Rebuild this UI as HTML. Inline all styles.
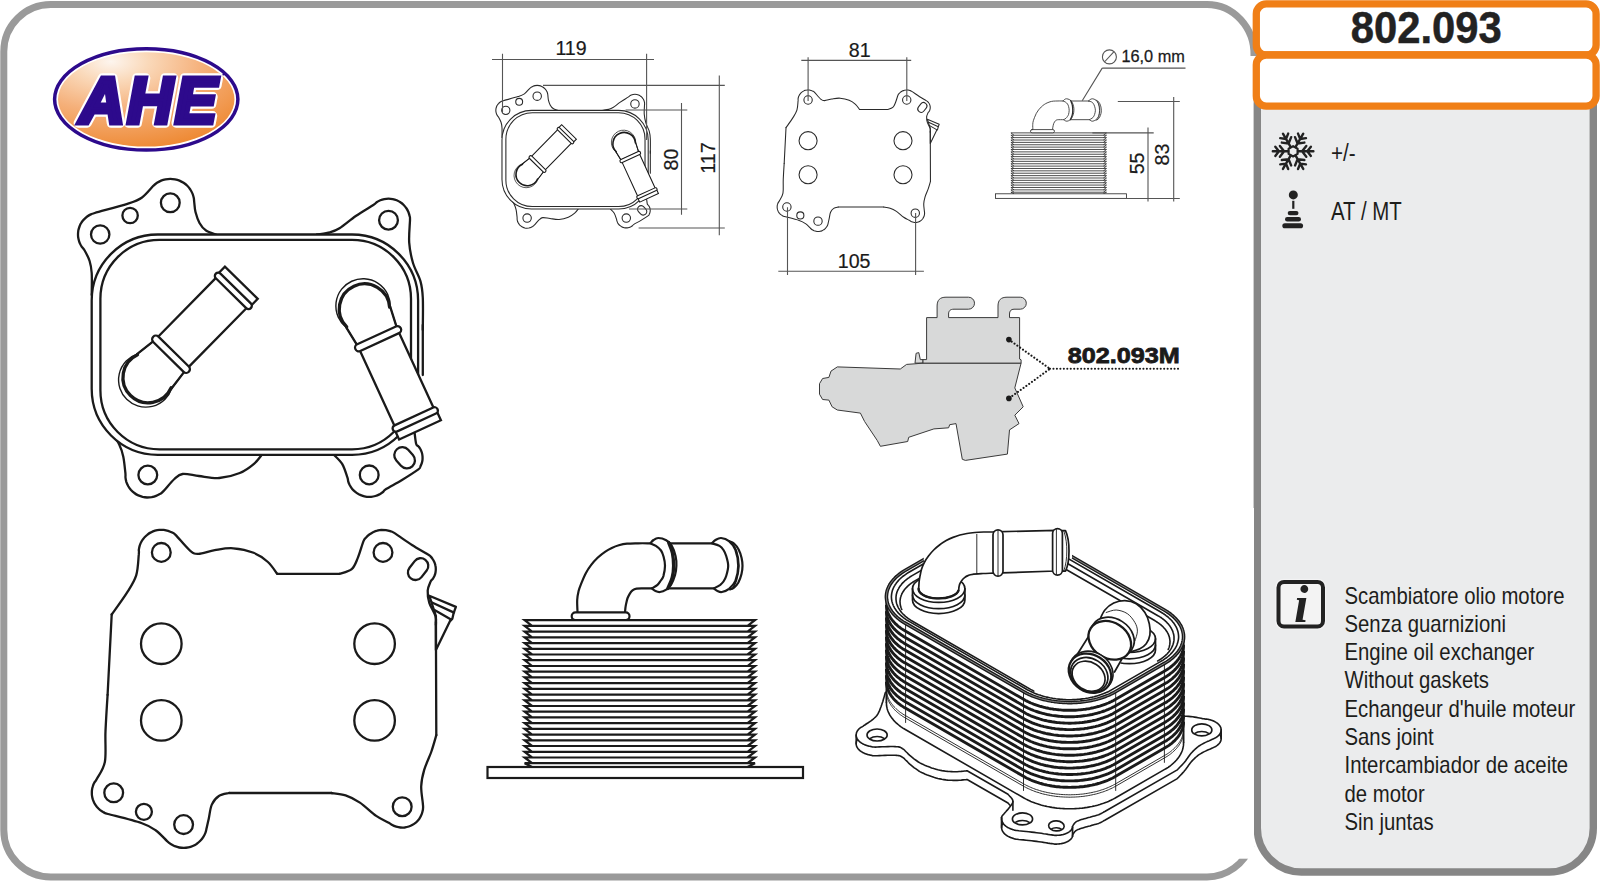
<!DOCTYPE html>
<html lang="it"><head><meta charset="utf-8"><title>802.093</title>
<style>
html,body{margin:0;padding:0;background:#fff;}
body{width:1600px;height:881px;overflow:hidden;}
svg{display:block;}
text{font-family:"Liberation Sans",sans-serif;}
.ln{fill:none;stroke:#1a1a1a;stroke-width:1.9;stroke-linecap:round;stroke-linejoin:round;}
.lnw{fill:#fff;stroke:#1a1a1a;stroke-width:1.9;stroke-linecap:round;stroke-linejoin:round;}
.dim{fill:none;stroke:#555;stroke-width:1.1;}
.dt{fill:#1a1a1a;font-size:19.6px;text-anchor:middle;stroke:#1a1a1a;stroke-width:0.2px;}
.info{fill:#1d1d1b;font-size:23px;}
</style></head>
<body>
<svg width="1600" height="881" viewBox="0 0 1600 881">
<g id="frame">
<path d="M1207 4.5 H51 A47 47 0 0 0 3.8 51.5 V830 A47 47 0 0 0 51 877 H1207 A47 47 0 0 0 1251 845" fill="none" stroke="#9a9a9a" stroke-width="7"/>
<path d="M1207 4.5 A47 50 0 0 1 1254 56" fill="none" stroke="#9a9a9a" stroke-width="7"/>
<rect x="1257.3" y="60" width="336" height="812" rx="44" ry="44" fill="#ebeced" stroke="#868686" stroke-width="7.4"/>
<rect x="1256.3" y="3.9" width="339.8" height="51.1" rx="10" ry="10" fill="#fff" stroke="#f07f17" stroke-width="7.3"/>
<rect x="1256.3" y="55" width="339.8" height="51.1" rx="10" ry="10" fill="#fff" stroke="#f07f17" stroke-width="7.3"/>
</g>
<g id="logo">
<defs><radialGradient id="lg" cx="0.3" cy="0.1" r="0.95"><stop offset="0" stop-color="#fdf5ee"/><stop offset="0.22" stop-color="#fad9ba"/><stop offset="0.55" stop-color="#f5b07a"/><stop offset="1" stop-color="#ee8933"/></radialGradient></defs>
<ellipse cx="146.25" cy="99.35" rx="91.65" ry="50.65" fill="#fff" stroke="#2d0a8c" stroke-width="3.5"/>
<ellipse cx="146.25" cy="99.35" rx="88.2" ry="47.2" fill="url(#lg)"/>
<text transform="translate(149.3 123.2) scale(0.965 1)" font-size="65" font-weight="bold" font-style="italic" text-anchor="middle" letter-spacing="2.5" fill="#fff" stroke="#fff" stroke-width="9.4" stroke-linejoin="round">AHE</text>
<text transform="translate(149.3 123.2) scale(0.965 1)" font-size="65" font-weight="bold" font-style="italic" text-anchor="middle" letter-spacing="2.5" fill="#2d0a8c" stroke="#2d0a8c" stroke-width="5" stroke-linejoin="miter">AHE</text>
<circle cx="223.4" cy="74.6" r="1" fill="#2d0a8c"/>
</g>
<g id="ptext">
<text transform="translate(1426.3 42.9) scale(0.935 1)" font-size="44.7" font-weight="bold" text-anchor="middle" fill="#222" stroke="#222" stroke-width="0.5">802.093</text>
<text transform="translate(1331 160.5) scale(0.86 1)" font-size="24" fill="#1d1d1b">+/-</text>
<text transform="translate(1331 220.3) scale(0.818 1)" font-size="25" fill="#1d1d1b">AT / MT</text>
<text class="info" transform="translate(1344.5 603.5) scale(0.884 1)">Scambiatore olio motore</text>
<text class="info" transform="translate(1344.5 631.8) scale(0.884 1)">Senza guarnizioni</text>
<text class="info" transform="translate(1344.5 660.1) scale(0.884 1)">Engine oil exchanger</text>
<text class="info" transform="translate(1344.5 688.4) scale(0.884 1)">Without gaskets</text>
<text class="info" transform="translate(1344.5 716.7) scale(0.884 1)">Echangeur d&#39;huile moteur</text>
<text class="info" transform="translate(1344.5 745) scale(0.884 1)">Sans joint</text>
<text class="info" transform="translate(1344.5 773.3) scale(0.884 1)">Intercambiador de aceite</text>
<text class="info" transform="translate(1344.5 801.6) scale(0.884 1)">de motor</text>
<text class="info" transform="translate(1344.5 829.9) scale(0.884 1)">Sin juntas</text>
</g>
<g id="icons">
<g transform="translate(1293.1 151.3)">
<g transform="rotate(0)"><path d="M5 0H20.3M9 0L13.2 -5.4M9 0L13.2 5.4M14.2 0L17.8 -4.6M14.2 0L17.8 4.6" fill="none" stroke="#222" stroke-width="2.4" stroke-linecap="round"/></g>
<g transform="rotate(60)"><path d="M5 0H20.3M9 0L13.2 -5.4M9 0L13.2 5.4M14.2 0L17.8 -4.6M14.2 0L17.8 4.6" fill="none" stroke="#222" stroke-width="2.4" stroke-linecap="round"/></g>
<g transform="rotate(120)"><path d="M5 0H20.3M9 0L13.2 -5.4M9 0L13.2 5.4M14.2 0L17.8 -4.6M14.2 0L17.8 4.6" fill="none" stroke="#222" stroke-width="2.4" stroke-linecap="round"/></g>
<g transform="rotate(180)"><path d="M5 0H20.3M9 0L13.2 -5.4M9 0L13.2 5.4M14.2 0L17.8 -4.6M14.2 0L17.8 4.6" fill="none" stroke="#222" stroke-width="2.4" stroke-linecap="round"/></g>
<g transform="rotate(240)"><path d="M5 0H20.3M9 0L13.2 -5.4M9 0L13.2 5.4M14.2 0L17.8 -4.6M14.2 0L17.8 4.6" fill="none" stroke="#222" stroke-width="2.4" stroke-linecap="round"/></g>
<g transform="rotate(300)"><path d="M5 0H20.3M9 0L13.2 -5.4M9 0L13.2 5.4M14.2 0L17.8 -4.6M14.2 0L17.8 4.6" fill="none" stroke="#222" stroke-width="2.4" stroke-linecap="round"/></g>
<path d="M4.5 2.6L0 5.2L-4.5 2.6L-4.5 -2.6L-0 -5.2L4.5 -2.6Z" fill="none" stroke="#222" stroke-width="2.2" stroke-linejoin="round"/>
</g>
<circle cx="1293.3" cy="194.9" r="4.5" fill="#222"/>
<rect x="1292.2" y="200.8" width="2.2" height="8" fill="#222"/>
<rect x="1287.7" y="210.9" width="10.8" height="4.4" rx="2.2" fill="#222"/>
<rect x="1285" y="217" width="16" height="4.5" rx="2.25" fill="#222"/>
<rect x="1282.3" y="223.2" width="20.8" height="5.1" rx="2.55" fill="#222"/>
<rect x="1275.3" y="578.7" width="50.9" height="50.9" rx="8" fill="#f6f6f6" opacity="0.7"/>
<rect x="1278.5" y="581.9" width="44.5" height="44.5" rx="5.5" fill="#f3f3f3" stroke="#222" stroke-width="4"/>
<text x="1301.2" y="621.8" font-family="Liberation Serif,serif" font-size="52" font-weight="bold" font-style="italic" text-anchor="middle" fill="#222" style="font-family:'Liberation Serif',serif">i</text>
</g>
<g id="topbig">
<path d="M216 234.5C214.3 233.8 208.8 232.4 206 230.5C203.2 228.6 201.2 226.1 199.5 223C197.8 219.9 196.4 215.4 195.5 212C194.6 208.6 194.6 205.1 194.3 202.8C194 200.5 194.1 199.6 193.8 198.1C193.5 196.6 193.1 195.1 192.5 193.6C191.9 192.2 191.1 190.8 190.3 189.5C189.4 188.2 188.4 186.9 187.3 185.8C186.2 184.7 184.9 183.7 183.6 182.8C182.3 182 180.9 181.2 179.5 180.6C178 180 176.5 179.6 175 179.3C173.5 179 171.9 178.8 170.3 178.8C168.7 178.8 167.1 179 165.6 179.3C164.1 179.6 162.6 180 161.1 180.6C159.7 181.2 158.3 182 157 182.8C155.7 183.7 155.9 183.4 153.3 185.8C150.8 188.3 146 194.7 141.7 197.7C137.4 200.7 135.2 201.3 127.4 203.8C119.6 206.3 100.9 211.2 94.8 213C88.7 214.7 92.1 213.8 90.8 214.4C89.5 215 88.3 215.7 87.2 216.5C86 217.4 84.9 218.3 84 219.4C83 220.4 82.1 221.5 81.4 222.7C80.6 223.9 80 225.2 79.5 226.5C79 227.9 78.6 229.3 78.3 230.6C78.1 232 78 233.5 78 234.9C78 236.3 78.2 237.7 78.5 239.1C78.8 240.5 79.2 241.9 79.8 243.2C80.3 244.5 81 245.7 81.8 246.9C82.6 248.1 83.2 247.9 84.5 250.2C85.8 252.5 88.4 257.2 89.6 261C90.8 264.8 91.3 267.3 91.7 273C92.1 278.7 91.7 291.3 91.7 295" fill="none" stroke="#1a1a1a" stroke-width="2.3" stroke-linecap="round" stroke-linejoin="round"/>
<path d="M317 234.5C319.2 234.1 326.2 233.3 330 232.3C333.8 231.3 335.2 231 339.5 228.3C343.8 225.6 350.2 219.9 355.8 216C361.4 212.1 369.8 207.3 373.3 205C376.8 202.7 375.4 203.1 376.6 202.3C377.7 201.5 379 200.9 380.3 200.3C381.6 199.8 382.9 199.4 384.3 199.1C385.7 198.8 387.1 198.7 388.5 198.7C389.9 198.7 391.3 198.8 392.7 199.1C394.1 199.4 395.4 199.8 396.7 200.3C398 200.9 399.3 201.5 400.4 202.3C401.6 203.1 402.7 204 403.7 205C404.7 206 405.6 207.1 406.4 208.3C407.2 209.4 407.8 210.7 408.4 212C408.9 213.3 409.3 214.6 409.6 216C409.9 217.4 410.1 215.8 410 220.2C409.9 224.6 408.7 235.5 409.2 242.6C409.7 249.7 411.1 256.5 413 263C414.9 269.5 418.9 275.6 420.5 281.4C422.1 287.2 422.4 289.7 422.8 297.8C423.2 305.9 422.8 324.6 422.8 330" fill="none" stroke="#1a1a1a" stroke-width="2.3" stroke-linecap="round" stroke-linejoin="round"/>
<path d="M109 428C110.7 430.7 116.8 439.6 119.2 444.4C121.6 449.2 122.3 451.9 123.3 456.7C124.3 461.5 125 469.6 125.4 473C125.7 476.5 125.3 476.1 125.5 477.6C125.6 479.1 126 480.6 126.4 482.1C126.9 483.5 127.6 484.9 128.3 486.2C129.1 487.6 130 488.8 131 490C132 491.1 133.1 492.1 134.4 493C135.6 494 136.9 494.8 138.3 495.4C139.7 496 141.1 496.5 142.6 496.9C144.1 497.2 145.6 497.4 147.1 497.5C148.7 497.5 150.2 497.4 151.7 497.2C153.2 496.9 154.7 496.5 156.1 495.9C157.5 495.4 158.9 494.6 160.2 493.8C161.4 493 161.3 493.4 163.7 490.9C166.1 488.4 171.3 481.8 174.4 479C177.5 476.2 178.5 474.5 182.6 474C186.7 473.5 192.8 475.3 198.9 476C205 476.7 212.5 478.5 219.3 478C226.1 477.5 234 475.4 239.8 473C245.6 470.6 250.3 466.9 254 463.8C257.7 460.7 260.7 456.1 262 454.5" fill="none" stroke="#1a1a1a" stroke-width="2.3" stroke-linecap="round" stroke-linejoin="round"/>
<path d="M334 455C335.4 456.5 340.1 460.4 342.3 464.1C344.5 467.8 346.3 474.3 347.3 477.2C348.3 480.1 347.8 480 348.2 481.4C348.6 482.8 349.2 484.1 349.8 485.3C350.5 486.6 351.3 487.8 352.2 488.9C353.1 490 354.2 491 355.3 491.9C356.4 492.8 357.6 493.6 358.8 494.3C360.1 495 361.4 495.5 362.8 495.9C364.1 496.4 365.6 496.6 367 496.8C368.4 496.9 369.8 496.9 371.2 496.8C372.7 496.7 374.1 496.4 375.4 496C376.8 495.6 378.2 495 379.4 494.4C380.7 493.7 381.9 492.9 383 492C384.1 491.1 382.9 491 386.1 489C389.2 487 396.6 483.3 402 480C407.4 476.7 415.3 471.6 418.4 469.4C421.5 467.1 419.8 467.5 420.4 466.5C420.9 465.4 421.4 464.3 421.8 463.2C422.1 462.1 422.4 460.9 422.5 459.8C422.6 458.6 422.6 457.4 422.5 456.2C422.4 455.1 422.2 453.9 421.9 452.8C421.6 451.6 421.1 450.5 420.6 449.5C420 448.5 419.4 447.4 418.6 446.5C417.9 445.6 416.8 446.3 416.2 444C415.5 441.8 414.9 434.8 414.6 433" fill="none" stroke="#1a1a1a" stroke-width="2.3" stroke-linecap="round" stroke-linejoin="round"/>
<path d="M422.8 325V375" fill="none" stroke="#1a1a1a" stroke-width="2.3" stroke-linecap="round" stroke-linejoin="round"/>
<circle cx="170.3" cy="202.8" r="9.4" fill="none" stroke="#1a1a1a" stroke-width="2.3" stroke-linecap="round" stroke-linejoin="round"/>
<circle cx="130.1" cy="215.5" r="7.7" fill="none" stroke="#1a1a1a" stroke-width="2.3" stroke-linecap="round" stroke-linejoin="round"/>
<circle cx="100.2" cy="234.5" r="9.2" fill="none" stroke="#1a1a1a" stroke-width="2.3" stroke-linecap="round" stroke-linejoin="round"/>
<circle cx="388.5" cy="220.2" r="9.4" fill="none" stroke="#1a1a1a" stroke-width="2.3" stroke-linecap="round" stroke-linejoin="round"/>
<circle cx="147.8" cy="475" r="9.4" fill="none" stroke="#1a1a1a" stroke-width="2.3" stroke-linecap="round" stroke-linejoin="round"/>
<circle cx="369.2" cy="474.9" r="9.4" fill="none" stroke="#1a1a1a" stroke-width="2.3" stroke-linecap="round" stroke-linejoin="round"/>
<rect x="-11.5" y="-8" width="23" height="16" rx="8" transform="translate(404.6 457.8) rotate(48)" fill="none" stroke="#1a1a1a" stroke-width="2.3" stroke-linecap="round" stroke-linejoin="round"/>
<path d="M157.7 234.5H352.1A66 66 0 0 1 418.1 300.5V388.8A66 66 0 0 1 352.1 454.8H157.7A66 66 0 0 1 91.7 388.8V300.5A66 66 0 0 1 157.7 234.5Z" fill="#fff" stroke="#1a1a1a" stroke-width="2.3" stroke-linecap="round" stroke-linejoin="round"/>
<path d="M159.4 239.8H352A59 59 0 0 1 411 298.8V390.3A59 59 0 0 1 352 449.3H159.4A59 59 0 0 1 100.4 390.3V298.8A59 59 0 0 1 159.4 239.8Z" fill="none" stroke="#1a1a1a" stroke-width="2.3" stroke-linecap="round" stroke-linejoin="round"/>
<g transform="translate(147.2 378.5) rotate(-45.5)">
<path d="M31 -21.7L10.2 -24.3A27.2 27.2 0 1 0 10.2 24.3L31 21.7Z" fill="#fff" stroke="#1a1a1a" stroke-width="1.4" stroke-linejoin="round"/>
<path d="M31 -21.7L10.2 -24.3M31 21.7L10.2 24.3" fill="none" stroke="#1a1a1a" stroke-width="2.3" stroke-linecap="round"/>
<path d="M10.2 -23.6A25.2 25.2 0 1 0 10.2 23.6" fill="none" stroke="#1a1a1a" stroke-width="3.3" stroke-linecap="round"/>
<rect x="33" y="-21.5" width="90" height="43" fill="#fff" stroke="none"/>
<path d="M36 -21.5H121M36 21.5H121" fill="none" stroke="#1a1a1a" stroke-width="2.3"/>
<rect x="30.3" y="-25" width="7.4" height="50" rx="3.7" fill="#fff" stroke="#1a1a1a" stroke-width="2.3"/>
<path d="M125 -23H134.3V23H125" fill="#fff" stroke="#1a1a1a" stroke-width="2.3" stroke-linejoin="miter"/>
<rect x="119.6" y="-24.6" width="6.6" height="49.2" rx="3.3" fill="#fff" stroke="#1a1a1a" stroke-width="2.3"/>
</g>
<g transform="translate(363.9 307.8) rotate(65.3)">
<path d="M31 -21.7L10.2 -24.3A27.2 27.2 0 1 0 10.2 24.3L31 21.7Z" fill="#fff" stroke="#1a1a1a" stroke-width="1.4" stroke-linejoin="round"/>
<path d="M31 -21.7L10.2 -24.3M31 21.7L10.2 24.3" fill="none" stroke="#1a1a1a" stroke-width="2.3" stroke-linecap="round"/>
<path d="M10.2 -23.6A25.2 25.2 0 1 0 10.2 23.6" fill="none" stroke="#1a1a1a" stroke-width="3.3" stroke-linecap="round"/>
<rect x="33" y="-21.5" width="90" height="43" fill="#fff" stroke="none"/>
<path d="M36 -21.5H121M36 21.5H121" fill="none" stroke="#1a1a1a" stroke-width="2.3"/>
<rect x="30.3" y="-25" width="7.4" height="50" rx="3.7" fill="#fff" stroke="#1a1a1a" stroke-width="2.3"/>
<path d="M125 -23H134.3V23H125" fill="#fff" stroke="#1a1a1a" stroke-width="2.3" stroke-linejoin="miter"/>
<rect x="119.6" y="-24.6" width="6.6" height="49.2" rx="3.3" fill="#fff" stroke="#1a1a1a" stroke-width="2.3"/>
</g>
</g>
<g id="botbig">
<path d="M429.3 595.7L455.9 606.9L453.6 613.2L452.4 618.6L449.8 621.4L435.9 650V616Z" fill="#fff" stroke="#1a1a1a" stroke-width="2.3" stroke-linecap="round" stroke-linejoin="round"/>
<path d="M432 602.5L454 612.6M434.5 610L451 619.5" fill="none" stroke="#1a1a1a" stroke-width="2.3" stroke-linecap="round" stroke-linejoin="round"/>
<path d="M111.7 614.5C114.2 610.9 122.9 599.1 127 592.6C131.1 586.1 134.2 581.7 136.2 575.3C138.2 568.9 138.3 558.6 138.8 554.4C139.2 550.1 138.7 551.4 138.8 549.9C139 548.5 139.3 547 139.7 545.6C140.2 544.2 140.8 542.8 141.5 541.5C142.2 540.2 143 539 144 537.9C144.9 536.7 146 535.7 147.2 534.8C148.3 533.9 149.6 533 150.9 532.4C152.2 531.7 153.6 531.1 155 530.7C156.4 530.3 157.9 530 159.3 529.9C160.8 529.8 162.3 529.8 163.8 529.9C165.2 530.1 166.7 530.4 168.1 530.8C169.5 531.3 170.9 531.9 172.2 532.6C173.5 533.3 172.8 532.1 175.8 535.1C178.8 538.1 186.5 547.7 190.3 550.8C194.1 553.9 194.4 553.9 198.5 553.8C202.6 553.7 209 551 214.8 550.1C220.6 549.2 226.7 547.8 233.2 548.3C239.7 548.8 247.8 550.5 253.6 552.8C259.4 555.1 264 558.5 267.9 562C271.8 565.5 275.6 571.8 277.2 573.8" fill="none" stroke="#1a1a1a" stroke-width="2.3" stroke-linecap="round" stroke-linejoin="round"/>
<path d="M277.2 573.8H339.5" fill="none" stroke="#1a1a1a" stroke-width="2.3" stroke-linecap="round" stroke-linejoin="round"/>
<path d="M339.5 573.8C341.5 573 348.6 571.8 351.7 569.1C354.8 566.5 355.8 562.6 357.8 557.9C359.8 553.2 362.1 544.5 363.5 541.1C364.9 537.8 365.1 538.7 366.1 537.6C367 536.5 368.1 535.4 369.3 534.5C370.5 533.7 371.7 532.9 373 532.2C374.4 531.6 375.8 531 377.2 530.7C378.6 530.3 380.1 530 381.5 529.9C383 529.9 384.5 529.9 385.9 530.1C387.4 530.3 388.8 530.6 390.2 531.1C391.6 531.6 390.6 530.6 394.2 532.9C397.9 535.2 406.4 541.4 412 545C417.6 548.6 424.7 552.3 427.7 554.3C430.8 556.2 429.6 555.6 430.5 556.4C431.3 557.2 432.1 558.2 432.7 559.1C433.4 560.1 433.9 561.1 434.4 562.2C434.8 563.3 435.2 564.4 435.4 565.5C435.7 566.7 435.8 567.8 435.8 569C435.8 570.2 435.7 571.3 435.5 572.5C435.3 573.6 434.9 574.8 434.5 575.8C434 576.9 433.5 577.9 432.8 578.9C432.2 579.9 431.5 579.7 430.6 581.6C429.8 583.6 427.9 587.1 427.7 590.6C427.5 594.1 428 598.5 429.3 602.8C430.6 607 434.4 612.4 435.5 616.1C436.6 619.8 435.8 623.5 435.9 625" fill="none" stroke="#1a1a1a" stroke-width="2.3" stroke-linecap="round" stroke-linejoin="round"/>
<path d="M435.9 622L436.3 735.2" fill="none" stroke="#1a1a1a" stroke-width="2.3" stroke-linecap="round" stroke-linejoin="round"/>
<path d="M436.3 735.2C435.5 737.9 433.4 745.7 431.4 751.5C429.4 757.3 425.9 764.1 424.2 769.9C422.5 775.7 421.4 780.7 421.2 786.2C421 791.7 422.5 799.6 422.8 803.1C423.1 806.6 423.1 805.9 423.1 807.3C423.1 808.7 422.9 810.1 422.5 811.5C422.2 812.9 421.7 814.3 421.1 815.5C420.5 816.8 419.8 818.1 419 819.2C418.1 820.3 417.1 821.4 416.1 822.3C415 823.2 413.9 824.1 412.6 824.8C411.4 825.5 410.1 826.1 408.8 826.5C407.4 827 406 827.3 404.6 827.5C403.2 827.6 401.8 827.6 400.4 827.5C399 827.4 397.6 827.1 396.2 826.7C394.9 826.3 393.5 825.8 392.3 825.1C391 824.4 391.4 824.2 388.8 822.7C386.1 821.2 381 819.3 376.2 815.9C371.4 812.5 365 806 359.9 802.6C354.8 799.2 350.4 797 345.6 795.4C340.8 793.8 333.7 793.4 331.3 793" fill="none" stroke="#1a1a1a" stroke-width="2.3" stroke-linecap="round" stroke-linejoin="round"/>
<path d="M331.3 793H229.1" fill="none" stroke="#1a1a1a" stroke-width="2.3" stroke-linecap="round" stroke-linejoin="round"/>
<path d="M229.1 793C227.4 793.5 221.8 794.1 218.9 796C216 797.9 213.5 800.8 211.8 804.6C210.1 808.4 209.6 814.9 208.7 818.9C207.8 822.9 207.1 826.3 206.5 828.6C206 831 205.9 831.7 205.3 833.1C204.7 834.5 204 835.9 203.2 837.2C202.4 838.5 201.4 839.7 200.3 840.8C199.3 841.9 198.1 842.9 196.8 843.8C195.6 844.7 194.2 845.4 192.8 846C191.4 846.6 189.9 847.1 188.4 847.4C186.9 847.7 185.3 847.9 183.8 847.9C182.3 847.9 180.7 847.8 179.2 847.5C177.7 847.2 176.2 846.7 174.8 846.2C173.4 845.6 172 844.8 170.7 844C169.4 843.2 169.6 843.4 167.1 841.1C164.6 838.8 159.9 833.2 155.6 830.2C151.3 827.2 149.2 825.7 141.3 823C133.4 820.3 114.3 815.7 108 814C101.8 812.2 105.2 813 103.9 812.4C102.6 811.7 101.4 811 100.2 810.1C99.1 809.2 98 808.1 97 807C96.1 805.9 95.3 804.7 94.5 803.4C93.8 802.1 93.3 800.8 92.8 799.4C92.4 798 92.1 796.5 91.9 795.1C91.8 793.6 91.8 792.1 91.9 790.7C92 789.3 92.3 787.8 92.8 786.4C93.2 785 93.8 783.6 94.5 782.4C95.1 781.1 95.2 782.2 96.9 778.7C98.7 775.3 103.5 769.6 104.9 761.7C106.3 753.8 105 742.2 105.5 731.1C106 720 107.2 700.8 107.6 694.8" fill="none" stroke="#1a1a1a" stroke-width="2.3" stroke-linecap="round" stroke-linejoin="round"/>
<path d="M107.6 694.8L111.7 614.5" fill="none" stroke="#1a1a1a" stroke-width="2.3" stroke-linecap="round" stroke-linejoin="round"/>
<circle cx="161.3" cy="552.4" r="9.4" fill="none" stroke="#1a1a1a" stroke-width="2.3" stroke-linecap="round" stroke-linejoin="round"/>
<circle cx="383" cy="552.4" r="9.4" fill="none" stroke="#1a1a1a" stroke-width="2.3" stroke-linecap="round" stroke-linejoin="round"/>
<circle cx="161.3" cy="643.7" r="20.3" fill="none" stroke="#1a1a1a" stroke-width="2.3" stroke-linecap="round" stroke-linejoin="round"/>
<circle cx="374.6" cy="643.7" r="20.3" fill="none" stroke="#1a1a1a" stroke-width="2.3" stroke-linecap="round" stroke-linejoin="round"/>
<circle cx="161.3" cy="720.4" r="20.3" fill="none" stroke="#1a1a1a" stroke-width="2.3" stroke-linecap="round" stroke-linejoin="round"/>
<circle cx="374.6" cy="720.4" r="20.3" fill="none" stroke="#1a1a1a" stroke-width="2.3" stroke-linecap="round" stroke-linejoin="round"/>
<circle cx="113.7" cy="792.8" r="9.4" fill="none" stroke="#1a1a1a" stroke-width="2.3" stroke-linecap="round" stroke-linejoin="round"/>
<circle cx="143.9" cy="811.8" r="8" fill="none" stroke="#1a1a1a" stroke-width="2.3" stroke-linecap="round" stroke-linejoin="round"/>
<circle cx="183.6" cy="824.6" r="9.4" fill="none" stroke="#1a1a1a" stroke-width="2.3" stroke-linecap="round" stroke-linejoin="round"/>
<circle cx="402.2" cy="806.7" r="9.4" fill="none" stroke="#1a1a1a" stroke-width="2.3" stroke-linecap="round" stroke-linejoin="round"/>
<rect x="-11.8" y="-7.6" width="23.6" height="15.2" rx="7.6" transform="translate(418.1 569.1) rotate(-52)" fill="none" stroke="#1a1a1a" stroke-width="2.3" stroke-linecap="round" stroke-linejoin="round"/>
</g>
<g id="sidebig">
<path d="M532.1 625.9L524.6 620.2H755L747.5 625.9M532.1 631.6L524.6 625.9H755L747.5 631.6M532.1 637.4L524.6 631.6H755L747.5 637.4M532.1 643.1L524.6 637.4H755L747.5 643.1M532.1 648.8L524.6 643.1H755L747.5 648.8M532.1 654.5L524.6 648.8H755L747.5 654.5M532.1 660.2L524.6 654.5H755L747.5 660.2M532.1 666L524.6 660.2H755L747.5 666M532.1 671.7L524.6 666H755L747.5 671.7M532.1 677.4L524.6 671.7H755L747.5 677.4M532.1 683.1L524.6 677.4H755L747.5 683.1M532.1 688.8L524.6 683.1H755L747.5 688.8M532.1 694.6L524.6 688.8H755L747.5 694.6M532.1 700.3L524.6 694.6H755L747.5 700.3M532.1 706L524.6 700.3H755L747.5 706M532.1 711.7L524.6 706H755L747.5 711.7M532.1 717.4L524.6 711.7H755L747.5 717.4M532.1 723.2L524.6 717.4H755L747.5 723.2M532.1 728.9L524.6 723.2H755L747.5 728.9M532.1 734.6L524.6 728.9H755L747.5 734.6M532.1 740.3L524.6 734.6H755L747.5 740.3M532.1 746L524.6 740.3H755L747.5 746M532.1 751.8L524.6 746H755L747.5 751.8M532.1 757.5L524.6 751.8H755L747.5 757.5M532.1 763.2L524.6 757.5H755L747.5 763.2M532.1 767L524.6 763.2H755L747.5 767" fill="none" stroke="#1a1a1a" stroke-width="2.2" stroke-linecap="butt" stroke-linejoin="miter"/>
<rect x="487.5" y="767" width="315.5" height="11" fill="#fff" stroke="#1a1a1a" stroke-width="2.2" stroke-linejoin="miter"/>
<path d="M577.5 612.5C577.5 610.4 577 603.6 577.2 600C577.4 596.4 577.9 593.9 578.6 591C579.3 588.1 580.4 585.7 581.6 582.7C582.8 579.7 584.2 576.2 585.8 573.2C587.4 570.2 589.2 567.5 591.2 564.9C593.2 562.3 595.3 560 597.6 557.8C599.9 555.6 602.6 553.4 605 551.8C607.4 550.2 609.5 549.1 611.8 548C614.1 546.9 616.3 546 618.8 545.3C621.3 544.6 623.8 544 627 543.7C630.2 543.4 634.1 543.4 638 543.3C641.9 543.2 648.2 543.3 650.3 543.3" fill="none" stroke="#1a1a1a" stroke-width="2.2" stroke-linecap="round" stroke-linejoin="round"/>
<path d="M651.9 588.4C650.6 588.4 646.5 588.4 644 588.4C641.5 588.4 638.5 588.3 636.6 588.6C634.7 588.9 633.6 589.5 632.5 590.4C631.4 591.3 630.5 592.5 629.7 593.8C628.9 595.1 628.2 596.5 627.6 598C627 599.5 626.7 601.3 626.3 603C625.9 604.7 625.6 606.4 625.4 608C625.2 609.6 625.1 611.8 625 612.5" fill="none" stroke="#1a1a1a" stroke-width="2.2" stroke-linecap="round" stroke-linejoin="round"/>
<rect x="571.7" y="612.3" width="57.8" height="7.7" rx="3.8" fill="#fff" stroke="#1a1a1a" stroke-width="2.2" stroke-linecap="round" stroke-linejoin="round"/>
<path d="M668 543.4H714M668 588.4H715" fill="none" stroke="#1a1a1a" stroke-width="2.2" stroke-linecap="round" stroke-linejoin="round"/>
<path d="M650.3 543.3C651.2 543.7 654.1 544.7 655.9 545.9C657.7 547.1 659.7 548.7 661 550.5C662.3 552.3 662.9 554.2 663.6 556.8C664.3 559.3 665 562.6 665 565.8C665 569 664.1 573.6 663.4 576.1C662.6 578.6 661.5 579.5 660.5 581C659.5 582.5 658.9 583.6 657.5 584.8C656.1 586 652.8 587.8 651.9 588.4C652.5 588.8 654.2 590.4 655.5 591C656.8 591.6 658.1 592.2 659.9 592C661.7 591.8 664.4 590.8 666.2 589.6C668.1 588.4 669.5 587.2 671 584.8C672.5 582.4 674.1 578.5 675 575.3C675.9 572.1 676.3 569 676.4 565.8C676.5 562.6 676.4 559.5 675.6 556.2C674.8 552.9 673.4 548.5 671.8 545.9C670.2 543.2 668.5 541.6 666.2 540.3C664 539 660.4 538 658.3 538C656.2 538 654.8 539.1 653.5 540C652.2 540.9 650.8 542.8 650.3 543.3" fill="#fff" stroke="#1a1a1a" stroke-width="2.2" stroke-linecap="round" stroke-linejoin="round"/>
<path d="M668.6 542.5C669.2 544.2 671.6 549.1 672.4 553C673.2 556.9 673.6 561.7 673.6 565.8C673.6 569.9 673.2 573.7 672.2 577.5C671.2 581.3 668.5 586.7 667.8 588.5" fill="none" stroke="#1a1a1a" stroke-width="3.3" stroke-linecap="round"/>
<path d="M729 541.2C729.8 541.6 732.4 542.1 734 543.5C735.6 544.9 737.3 547.1 738.6 549.5C739.9 551.9 741 555.3 741.6 558C742.2 560.7 742.5 563.1 742.5 565.8C742.5 568.5 742.2 571.2 741.5 574C740.8 576.8 739.6 580.2 738.4 582.5C737.1 584.8 735.4 586.5 734 587.6C732.6 588.8 730.5 589.1 729.8 589.4" fill="#fff" stroke="#1a1a1a" stroke-width="2.2" stroke-linecap="round" stroke-linejoin="round"/>
<path d="M711.9 543.3C713.2 543.7 717.6 544.8 719.5 545.9C721.4 547 722.4 548.3 723.5 550C724.6 551.7 725.4 553.4 726.2 556C727 558.6 728.2 562.5 728.2 565.8C728.2 569.1 727 573.4 726.2 576C725.4 578.6 724.5 580 723.5 581.5C722.5 583 721.9 583.6 720.3 584.8C718.7 585.9 715 587.8 713.9 588.4C714.5 588.8 716.2 590.4 717.5 591C718.8 591.6 720 592.4 721.9 592C723.8 591.6 726.8 590.6 729 588.8C731.2 586.9 733.9 584.7 735.4 580.9C736.9 577.1 738.2 571 738.2 565.8C738.2 560.6 736.9 554 735.4 549.9C733.9 545.8 731.4 543.1 729 541.1C726.6 539.1 723.4 538.2 721.1 538C718.9 537.8 717 539.1 715.5 540C714 540.9 712.5 542.8 711.9 543.3" fill="#fff" stroke="#1a1a1a" stroke-width="2.2" stroke-linecap="round" stroke-linejoin="round"/>
<path d="M731.4 542.7C732.3 544.1 735.3 547.1 736.6 551C737.9 554.9 739 561 739 565.8C739 570.6 737.7 576.2 736.6 580C735.5 583.8 733.2 587.2 732.5 588.6" fill="none" stroke="#1a1a1a" stroke-width="1.5" stroke-linecap="round"/>
</g>
<g id="small">
<g transform="translate(460.9 5.3) scale(0.448)">
<path d="M216 234.5C214.3 233.8 208.8 232.4 206 230.5C203.2 228.6 201.2 226.1 199.5 223C197.8 219.9 196.4 215.4 195.5 212C194.6 208.6 194.6 205.1 194.3 202.8C194 200.5 194.1 199.6 193.8 198.1C193.5 196.6 193.1 195.1 192.5 193.6C191.9 192.2 191.1 190.8 190.3 189.5C189.4 188.2 188.4 186.9 187.3 185.8C186.2 184.7 184.9 183.7 183.6 182.8C182.3 182 180.9 181.2 179.5 180.6C178 180 176.5 179.6 175 179.3C173.5 179 171.9 178.8 170.3 178.8C168.7 178.8 167.1 179 165.6 179.3C164.1 179.6 162.6 180 161.1 180.6C159.7 181.2 158.3 182 157 182.8C155.7 183.7 155.9 183.4 153.3 185.8C150.8 188.3 146 194.7 141.7 197.7C137.4 200.7 135.2 201.3 127.4 203.8C119.6 206.3 100.9 211.2 94.8 213C88.7 214.7 92.1 213.8 90.8 214.4C89.5 215 88.3 215.7 87.2 216.5C86 217.4 84.9 218.3 84 219.4C83 220.4 82.1 221.5 81.4 222.7C80.6 223.9 80 225.2 79.5 226.5C79 227.9 78.6 229.3 78.3 230.6C78.1 232 78 233.5 78 234.9C78 236.3 78.2 237.7 78.5 239.1C78.8 240.5 79.2 241.9 79.8 243.2C80.3 244.5 81 245.7 81.8 246.9C82.6 248.1 83.2 247.9 84.5 250.2C85.8 252.5 88.4 257.2 89.6 261C90.8 264.8 91.3 267.3 91.7 273C92.1 278.7 91.7 291.3 91.7 295" fill="none" stroke="#2a2a2a" stroke-width="2.4" stroke-linecap="round" stroke-linejoin="round"/>
<path d="M317 234.5C319.2 234.1 326.2 233.3 330 232.3C333.8 231.3 335.2 231 339.5 228.3C343.8 225.6 350.2 219.9 355.8 216C361.4 212.1 369.8 207.3 373.3 205C376.8 202.7 375.4 203.1 376.6 202.3C377.7 201.5 379 200.9 380.3 200.3C381.6 199.8 382.9 199.4 384.3 199.1C385.7 198.8 387.1 198.7 388.5 198.7C389.9 198.7 391.3 198.8 392.7 199.1C394.1 199.4 395.4 199.8 396.7 200.3C398 200.9 399.3 201.5 400.4 202.3C401.6 203.1 402.7 204 403.7 205C404.7 206 405.6 207.1 406.4 208.3C407.2 209.4 407.8 210.7 408.4 212C408.9 213.3 409.3 214.6 409.6 216C409.9 217.4 410.1 215.8 410 220.2C409.9 224.6 408.7 235.5 409.2 242.6C409.7 249.7 411.1 256.5 413 263C414.9 269.5 418.9 275.6 420.5 281.4C422.1 287.2 422.4 289.7 422.8 297.8C423.2 305.9 422.8 324.6 422.8 330" fill="none" stroke="#2a2a2a" stroke-width="2.4" stroke-linecap="round" stroke-linejoin="round"/>
<path d="M109 428C110.7 430.7 116.8 439.6 119.2 444.4C121.6 449.2 122.3 451.9 123.3 456.7C124.3 461.5 125 469.6 125.4 473C125.7 476.5 125.3 476.1 125.5 477.6C125.6 479.1 126 480.6 126.4 482.1C126.9 483.5 127.6 484.9 128.3 486.2C129.1 487.6 130 488.8 131 490C132 491.1 133.1 492.1 134.4 493C135.6 494 136.9 494.8 138.3 495.4C139.7 496 141.1 496.5 142.6 496.9C144.1 497.2 145.6 497.4 147.1 497.5C148.7 497.5 150.2 497.4 151.7 497.2C153.2 496.9 154.7 496.5 156.1 495.9C157.5 495.4 158.9 494.6 160.2 493.8C161.4 493 161.3 493.4 163.7 490.9C166.1 488.4 171.3 481.8 174.4 479C177.5 476.2 178.5 474.5 182.6 474C186.7 473.5 192.8 475.3 198.9 476C205 476.7 212.5 478.5 219.3 478C226.1 477.5 234 475.4 239.8 473C245.6 470.6 250.3 466.9 254 463.8C257.7 460.7 260.7 456.1 262 454.5" fill="none" stroke="#2a2a2a" stroke-width="2.4" stroke-linecap="round" stroke-linejoin="round"/>
<path d="M334 455C335.4 456.5 340.1 460.4 342.3 464.1C344.5 467.8 346.3 474.3 347.3 477.2C348.3 480.1 347.8 480 348.2 481.4C348.6 482.8 349.2 484.1 349.8 485.3C350.5 486.6 351.3 487.8 352.2 488.9C353.1 490 354.2 491 355.3 491.9C356.4 492.8 357.6 493.6 358.8 494.3C360.1 495 361.4 495.5 362.8 495.9C364.1 496.4 365.6 496.6 367 496.8C368.4 496.9 369.8 496.9 371.2 496.8C372.7 496.7 374.1 496.4 375.4 496C376.8 495.6 378.2 495 379.4 494.4C380.7 493.7 381.9 492.9 383 492C384.1 491.1 382.9 491 386.1 489C389.2 487 396.6 483.3 402 480C407.4 476.7 415.3 471.6 418.4 469.4C421.5 467.1 419.8 467.5 420.4 466.5C420.9 465.4 421.4 464.3 421.8 463.2C422.1 462.1 422.4 460.9 422.5 459.8C422.6 458.6 422.6 457.4 422.5 456.2C422.4 455.1 422.2 453.9 421.9 452.8C421.6 451.6 421.1 450.5 420.6 449.5C420 448.5 419.4 447.4 418.6 446.5C417.9 445.6 416.8 446.3 416.2 444C415.5 441.8 414.9 434.8 414.6 433" fill="none" stroke="#2a2a2a" stroke-width="2.4" stroke-linecap="round" stroke-linejoin="round"/>
<path d="M422.8 325V375" fill="none" stroke="#2a2a2a" stroke-width="2.4" stroke-linecap="round" stroke-linejoin="round"/>
<circle cx="170.3" cy="202.8" r="9.4" fill="none" stroke="#2a2a2a" stroke-width="2.4" stroke-linecap="round" stroke-linejoin="round"/>
<circle cx="130.1" cy="215.5" r="7.7" fill="none" stroke="#2a2a2a" stroke-width="2.4" stroke-linecap="round" stroke-linejoin="round"/>
<circle cx="100.2" cy="234.5" r="9.2" fill="none" stroke="#2a2a2a" stroke-width="2.4" stroke-linecap="round" stroke-linejoin="round"/>
<circle cx="388.5" cy="220.2" r="9.4" fill="none" stroke="#2a2a2a" stroke-width="2.4" stroke-linecap="round" stroke-linejoin="round"/>
<circle cx="147.8" cy="475" r="9.4" fill="none" stroke="#2a2a2a" stroke-width="2.4" stroke-linecap="round" stroke-linejoin="round"/>
<circle cx="369.2" cy="474.9" r="9.4" fill="none" stroke="#2a2a2a" stroke-width="2.4" stroke-linecap="round" stroke-linejoin="round"/>
<rect x="-11.5" y="-8" width="23" height="16" rx="8" transform="translate(404.6 457.8) rotate(48)" fill="none" stroke="#2a2a2a" stroke-width="2.4" stroke-linecap="round" stroke-linejoin="round"/>
<path d="M157.7 234.5H352.1A66 66 0 0 1 418.1 300.5V388.8A66 66 0 0 1 352.1 454.8H157.7A66 66 0 0 1 91.7 388.8V300.5A66 66 0 0 1 157.7 234.5Z" fill="#fff" stroke="#2a2a2a" stroke-width="2.4" stroke-linecap="round" stroke-linejoin="round"/>
<path d="M159.4 239.8H352A59 59 0 0 1 411 298.8V390.3A59 59 0 0 1 352 449.3H159.4A59 59 0 0 1 100.4 390.3V298.8A59 59 0 0 1 159.4 239.8Z" fill="none" stroke="#2a2a2a" stroke-width="2.4" stroke-linecap="round" stroke-linejoin="round"/>
<g transform="translate(147.2 378.5) rotate(-45.5)">
<path d="M31 -21.7L10.2 -24.3A27.2 27.2 0 1 0 10.2 24.3L31 21.7Z" fill="#fff" stroke="#1a1a1a" stroke-width="1.5" stroke-linejoin="round"/>
<path d="M31 -21.7L10.2 -24.3M31 21.7L10.2 24.3" fill="none" stroke="#1a1a1a" stroke-width="2.4" stroke-linecap="round"/>
<path d="M10.2 -23.6A25.2 25.2 0 1 0 10.2 23.6" fill="none" stroke="#1a1a1a" stroke-width="3.5" stroke-linecap="round"/>
<rect x="33" y="-21.5" width="90" height="43" fill="#fff" stroke="none"/>
<path d="M36 -21.5H121M36 21.5H121" fill="none" stroke="#1a1a1a" stroke-width="2.4"/>
<rect x="30.3" y="-25" width="7.4" height="50" rx="3.7" fill="#fff" stroke="#1a1a1a" stroke-width="2.4"/>
<path d="M125 -23H134.3V23H125" fill="#fff" stroke="#1a1a1a" stroke-width="2.4" stroke-linejoin="miter"/>
<rect x="119.6" y="-24.6" width="6.6" height="49.2" rx="3.3" fill="#fff" stroke="#1a1a1a" stroke-width="2.4"/>
</g>
<g transform="translate(363.9 307.8) rotate(65.3)">
<path d="M31 -21.7L10.2 -24.3A27.2 27.2 0 1 0 10.2 24.3L31 21.7Z" fill="#fff" stroke="#1a1a1a" stroke-width="1.5" stroke-linejoin="round"/>
<path d="M31 -21.7L10.2 -24.3M31 21.7L10.2 24.3" fill="none" stroke="#1a1a1a" stroke-width="2.4" stroke-linecap="round"/>
<path d="M10.2 -23.6A25.2 25.2 0 1 0 10.2 23.6" fill="none" stroke="#1a1a1a" stroke-width="3.5" stroke-linecap="round"/>
<rect x="33" y="-21.5" width="90" height="43" fill="#fff" stroke="none"/>
<path d="M36 -21.5H121M36 21.5H121" fill="none" stroke="#1a1a1a" stroke-width="2.4"/>
<rect x="30.3" y="-25" width="7.4" height="50" rx="3.7" fill="#fff" stroke="#1a1a1a" stroke-width="2.4"/>
<path d="M125 -23H134.3V23H125" fill="#fff" stroke="#1a1a1a" stroke-width="2.4" stroke-linejoin="miter"/>
<rect x="119.6" y="-24.6" width="6.6" height="49.2" rx="3.3" fill="#fff" stroke="#1a1a1a" stroke-width="2.4"/>
</g>
</g>
<path class="dim" d="M492 59.5H654M502.5 53.7V112M646.6 53.7V140M543 85.4H724.8M625.6 110H687.3M629 209H687.3M638.6 228H724.8M681.5 103V214.8M719.3 75.5V235.3"/>
<text class="dt" x="571" y="55">119</text>
<text class="dt" font-size="19.6" transform="translate(678.2 159.5) rotate(-90)">80</text>
<text class="dt" font-size="19.6" transform="translate(715.4 158) rotate(-90)">117</text>
<g transform="translate(736.3 -145.8) scale(0.445)">
<path d="M429.3 595.7L455.9 606.9L453.6 613.2L452.4 618.6L449.8 621.4L435.9 650V616Z" fill="#fff" stroke="#2a2a2a" stroke-width="2.4" stroke-linecap="round" stroke-linejoin="round"/>
<path d="M432 602.5L454 612.6M434.5 610L451 619.5" fill="none" stroke="#2a2a2a" stroke-width="2.4" stroke-linecap="round" stroke-linejoin="round"/>
<path d="M111.7 614.5C114.2 610.9 122.9 599.1 127 592.6C131.1 586.1 134.2 581.7 136.2 575.3C138.2 568.9 138.3 558.6 138.8 554.4C139.2 550.1 138.7 551.4 138.8 549.9C139 548.5 139.3 547 139.7 545.6C140.2 544.2 140.8 542.8 141.5 541.5C142.2 540.2 143 539 144 537.9C144.9 536.7 146 535.7 147.2 534.8C148.3 533.9 149.6 533 150.9 532.4C152.2 531.7 153.6 531.1 155 530.7C156.4 530.3 157.9 530 159.3 529.9C160.8 529.8 162.3 529.8 163.8 529.9C165.2 530.1 166.7 530.4 168.1 530.8C169.5 531.3 170.9 531.9 172.2 532.6C173.5 533.3 172.8 532.1 175.8 535.1C178.8 538.1 186.5 547.7 190.3 550.8C194.1 553.9 194.4 553.9 198.5 553.8C202.6 553.7 209 551 214.8 550.1C220.6 549.2 226.7 547.8 233.2 548.3C239.7 548.8 247.8 550.5 253.6 552.8C259.4 555.1 264 558.5 267.9 562C271.8 565.5 275.6 571.8 277.2 573.8" fill="none" stroke="#2a2a2a" stroke-width="2.4" stroke-linecap="round" stroke-linejoin="round"/>
<path d="M277.2 573.8H339.5" fill="none" stroke="#2a2a2a" stroke-width="2.4" stroke-linecap="round" stroke-linejoin="round"/>
<path d="M339.5 573.8C341.5 573 348.6 571.8 351.7 569.1C354.8 566.5 355.8 562.6 357.8 557.9C359.8 553.2 362.1 544.5 363.5 541.1C364.9 537.8 365.1 538.7 366.1 537.6C367 536.5 368.1 535.4 369.3 534.5C370.5 533.7 371.7 532.9 373 532.2C374.4 531.6 375.8 531 377.2 530.7C378.6 530.3 380.1 530 381.5 529.9C383 529.9 384.5 529.9 385.9 530.1C387.4 530.3 388.8 530.6 390.2 531.1C391.6 531.6 390.6 530.6 394.2 532.9C397.9 535.2 406.4 541.4 412 545C417.6 548.6 424.7 552.3 427.7 554.3C430.8 556.2 429.6 555.6 430.5 556.4C431.3 557.2 432.1 558.2 432.7 559.1C433.4 560.1 433.9 561.1 434.4 562.2C434.8 563.3 435.2 564.4 435.4 565.5C435.7 566.7 435.8 567.8 435.8 569C435.8 570.2 435.7 571.3 435.5 572.5C435.3 573.6 434.9 574.8 434.5 575.8C434 576.9 433.5 577.9 432.8 578.9C432.2 579.9 431.5 579.7 430.6 581.6C429.8 583.6 427.9 587.1 427.7 590.6C427.5 594.1 428 598.5 429.3 602.8C430.6 607 434.4 612.4 435.5 616.1C436.6 619.8 435.8 623.5 435.9 625" fill="none" stroke="#2a2a2a" stroke-width="2.4" stroke-linecap="round" stroke-linejoin="round"/>
<path d="M435.9 622L436.3 735.2" fill="none" stroke="#2a2a2a" stroke-width="2.4" stroke-linecap="round" stroke-linejoin="round"/>
<path d="M436.3 735.2C435.5 737.9 433.4 745.7 431.4 751.5C429.4 757.3 425.9 764.1 424.2 769.9C422.5 775.7 421.4 780.7 421.2 786.2C421 791.7 422.5 799.6 422.8 803.1C423.1 806.6 423.1 805.9 423.1 807.3C423.1 808.7 422.9 810.1 422.5 811.5C422.2 812.9 421.7 814.3 421.1 815.5C420.5 816.8 419.8 818.1 419 819.2C418.1 820.3 417.1 821.4 416.1 822.3C415 823.2 413.9 824.1 412.6 824.8C411.4 825.5 410.1 826.1 408.8 826.5C407.4 827 406 827.3 404.6 827.5C403.2 827.6 401.8 827.6 400.4 827.5C399 827.4 397.6 827.1 396.2 826.7C394.9 826.3 393.5 825.8 392.3 825.1C391 824.4 391.4 824.2 388.8 822.7C386.1 821.2 381 819.3 376.2 815.9C371.4 812.5 365 806 359.9 802.6C354.8 799.2 350.4 797 345.6 795.4C340.8 793.8 333.7 793.4 331.3 793" fill="none" stroke="#2a2a2a" stroke-width="2.4" stroke-linecap="round" stroke-linejoin="round"/>
<path d="M331.3 793H229.1" fill="none" stroke="#2a2a2a" stroke-width="2.4" stroke-linecap="round" stroke-linejoin="round"/>
<path d="M229.1 793C227.4 793.5 221.8 794.1 218.9 796C216 797.9 213.5 800.8 211.8 804.6C210.1 808.4 209.6 814.9 208.7 818.9C207.8 822.9 207.1 826.3 206.5 828.6C206 831 205.9 831.7 205.3 833.1C204.7 834.5 204 835.9 203.2 837.2C202.4 838.5 201.4 839.7 200.3 840.8C199.3 841.9 198.1 842.9 196.8 843.8C195.6 844.7 194.2 845.4 192.8 846C191.4 846.6 189.9 847.1 188.4 847.4C186.9 847.7 185.3 847.9 183.8 847.9C182.3 847.9 180.7 847.8 179.2 847.5C177.7 847.2 176.2 846.7 174.8 846.2C173.4 845.6 172 844.8 170.7 844C169.4 843.2 169.6 843.4 167.1 841.1C164.6 838.8 159.9 833.2 155.6 830.2C151.3 827.2 149.2 825.7 141.3 823C133.4 820.3 114.3 815.7 108 814C101.8 812.2 105.2 813 103.9 812.4C102.6 811.7 101.4 811 100.2 810.1C99.1 809.2 98 808.1 97 807C96.1 805.9 95.3 804.7 94.5 803.4C93.8 802.1 93.3 800.8 92.8 799.4C92.4 798 92.1 796.5 91.9 795.1C91.8 793.6 91.8 792.1 91.9 790.7C92 789.3 92.3 787.8 92.8 786.4C93.2 785 93.8 783.6 94.5 782.4C95.1 781.1 95.2 782.2 96.9 778.7C98.7 775.3 103.5 769.6 104.9 761.7C106.3 753.8 105 742.2 105.5 731.1C106 720 107.2 700.8 107.6 694.8" fill="none" stroke="#2a2a2a" stroke-width="2.4" stroke-linecap="round" stroke-linejoin="round"/>
<path d="M107.6 694.8L111.7 614.5" fill="none" stroke="#2a2a2a" stroke-width="2.4" stroke-linecap="round" stroke-linejoin="round"/>
<circle cx="161.3" cy="552.4" r="9.4" fill="none" stroke="#2a2a2a" stroke-width="2.4" stroke-linecap="round" stroke-linejoin="round"/>
<circle cx="383" cy="552.4" r="9.4" fill="none" stroke="#2a2a2a" stroke-width="2.4" stroke-linecap="round" stroke-linejoin="round"/>
<circle cx="161.3" cy="643.7" r="20.3" fill="none" stroke="#2a2a2a" stroke-width="2.4" stroke-linecap="round" stroke-linejoin="round"/>
<circle cx="374.6" cy="643.7" r="20.3" fill="none" stroke="#2a2a2a" stroke-width="2.4" stroke-linecap="round" stroke-linejoin="round"/>
<circle cx="161.3" cy="720.4" r="20.3" fill="none" stroke="#2a2a2a" stroke-width="2.4" stroke-linecap="round" stroke-linejoin="round"/>
<circle cx="374.6" cy="720.4" r="20.3" fill="none" stroke="#2a2a2a" stroke-width="2.4" stroke-linecap="round" stroke-linejoin="round"/>
<circle cx="113.7" cy="792.8" r="9.4" fill="none" stroke="#2a2a2a" stroke-width="2.4" stroke-linecap="round" stroke-linejoin="round"/>
<circle cx="143.9" cy="811.8" r="8" fill="none" stroke="#2a2a2a" stroke-width="2.4" stroke-linecap="round" stroke-linejoin="round"/>
<circle cx="183.6" cy="824.6" r="9.4" fill="none" stroke="#2a2a2a" stroke-width="2.4" stroke-linecap="round" stroke-linejoin="round"/>
<circle cx="402.2" cy="806.7" r="9.4" fill="none" stroke="#2a2a2a" stroke-width="2.4" stroke-linecap="round" stroke-linejoin="round"/>
<rect x="-11.8" y="-7.6" width="23.6" height="15.2" rx="7.6" transform="translate(418.1 569.1) rotate(-52)" fill="none" stroke="#2a2a2a" stroke-width="2.4" stroke-linecap="round" stroke-linejoin="round"/>
</g>
<path class="dim" d="M801.3 60.4H911.2M808.1 57.2V100.9M906.8 57.2V100.9M778.3 271.3H923.9M787.5 207.2V275.1M915.6 213.1V275.1"/>
<text class="dt" x="859.7" y="56.6">81</text>
<text class="dt" x="854.1" y="267.7">105</text>
<g transform="translate(793.2 -124.5) scale(0.415)">
<path d="M532.1 625.9L524.6 620.2H755L747.5 625.9M532.1 631.6L524.6 625.9H755L747.5 631.6M532.1 637.4L524.6 631.6H755L747.5 637.4M532.1 643.1L524.6 637.4H755L747.5 643.1M532.1 648.8L524.6 643.1H755L747.5 648.8M532.1 654.5L524.6 648.8H755L747.5 654.5M532.1 660.2L524.6 654.5H755L747.5 660.2M532.1 666L524.6 660.2H755L747.5 666M532.1 671.7L524.6 666H755L747.5 671.7M532.1 677.4L524.6 671.7H755L747.5 677.4M532.1 683.1L524.6 677.4H755L747.5 683.1M532.1 688.8L524.6 683.1H755L747.5 688.8M532.1 694.6L524.6 688.8H755L747.5 694.6M532.1 700.3L524.6 694.6H755L747.5 700.3M532.1 706L524.6 700.3H755L747.5 706M532.1 711.7L524.6 706H755L747.5 711.7M532.1 717.4L524.6 711.7H755L747.5 717.4M532.1 723.2L524.6 717.4H755L747.5 723.2M532.1 728.9L524.6 723.2H755L747.5 728.9M532.1 734.6L524.6 728.9H755L747.5 734.6M532.1 740.3L524.6 734.6H755L747.5 740.3M532.1 746L524.6 740.3H755L747.5 746M532.1 751.8L524.6 746H755L747.5 751.8M532.1 757.5L524.6 751.8H755L747.5 757.5M532.1 763.2L524.6 757.5H755L747.5 763.2M532.1 767L524.6 763.2H755L747.5 767" fill="none" stroke="#2a2a2a" stroke-width="2" stroke-linecap="butt" stroke-linejoin="miter"/>
<rect x="487.5" y="767" width="315.5" height="11" fill="#fff" stroke="#2a2a2a" stroke-width="2" stroke-linejoin="miter"/>
<path d="M577.5 612.5C577.5 610.4 577 603.6 577.2 600C577.4 596.4 577.9 593.9 578.6 591C579.3 588.1 580.4 585.7 581.6 582.7C582.8 579.7 584.2 576.2 585.8 573.2C587.4 570.2 589.2 567.5 591.2 564.9C593.2 562.3 595.3 560 597.6 557.8C599.9 555.6 602.6 553.4 605 551.8C607.4 550.2 609.5 549.1 611.8 548C614.1 546.9 616.3 546 618.8 545.3C621.3 544.6 623.8 544 627 543.7C630.2 543.4 634.1 543.4 638 543.3C641.9 543.2 648.2 543.3 650.3 543.3" fill="none" stroke="#2a2a2a" stroke-width="2" stroke-linecap="round" stroke-linejoin="round"/>
<path d="M651.9 588.4C650.6 588.4 646.5 588.4 644 588.4C641.5 588.4 638.5 588.3 636.6 588.6C634.7 588.9 633.6 589.5 632.5 590.4C631.4 591.3 630.5 592.5 629.7 593.8C628.9 595.1 628.2 596.5 627.6 598C627 599.5 626.7 601.3 626.3 603C625.9 604.7 625.6 606.4 625.4 608C625.2 609.6 625.1 611.8 625 612.5" fill="none" stroke="#2a2a2a" stroke-width="2" stroke-linecap="round" stroke-linejoin="round"/>
<rect x="571.7" y="612.3" width="57.8" height="7.7" rx="3.8" fill="#fff" stroke="#2a2a2a" stroke-width="2" stroke-linecap="round" stroke-linejoin="round"/>
<path d="M668 543.4H714M668 588.4H715" fill="none" stroke="#2a2a2a" stroke-width="2" stroke-linecap="round" stroke-linejoin="round"/>
<path d="M650.3 543.3C651.2 543.7 654.1 544.7 655.9 545.9C657.7 547.1 659.7 548.7 661 550.5C662.3 552.3 662.9 554.2 663.6 556.8C664.3 559.3 665 562.6 665 565.8C665 569 664.1 573.6 663.4 576.1C662.6 578.6 661.5 579.5 660.5 581C659.5 582.5 658.9 583.6 657.5 584.8C656.1 586 652.8 587.8 651.9 588.4C652.5 588.8 654.2 590.4 655.5 591C656.8 591.6 658.1 592.2 659.9 592C661.7 591.8 664.4 590.8 666.2 589.6C668.1 588.4 669.5 587.2 671 584.8C672.5 582.4 674.1 578.5 675 575.3C675.9 572.1 676.3 569 676.4 565.8C676.5 562.6 676.4 559.5 675.6 556.2C674.8 552.9 673.4 548.5 671.8 545.9C670.2 543.2 668.5 541.6 666.2 540.3C664 539 660.4 538 658.3 538C656.2 538 654.8 539.1 653.5 540C652.2 540.9 650.8 542.8 650.3 543.3" fill="#fff" stroke="#2a2a2a" stroke-width="2" stroke-linecap="round" stroke-linejoin="round"/>
<path d="M668.6 542.5C669.2 544.2 671.6 549.1 672.4 553C673.2 556.9 673.6 561.7 673.6 565.8C673.6 569.9 673.2 573.7 672.2 577.5C671.2 581.3 668.5 586.7 667.8 588.5" fill="none" stroke="#2a2a2a" stroke-width="3" stroke-linecap="round"/>
<path d="M729 541.2C729.8 541.6 732.4 542.1 734 543.5C735.6 544.9 737.3 547.1 738.6 549.5C739.9 551.9 741 555.3 741.6 558C742.2 560.7 742.5 563.1 742.5 565.8C742.5 568.5 742.2 571.2 741.5 574C740.8 576.8 739.6 580.2 738.4 582.5C737.1 584.8 735.4 586.5 734 587.6C732.6 588.8 730.5 589.1 729.8 589.4" fill="#fff" stroke="#2a2a2a" stroke-width="2" stroke-linecap="round" stroke-linejoin="round"/>
<path d="M711.9 543.3C713.2 543.7 717.6 544.8 719.5 545.9C721.4 547 722.4 548.3 723.5 550C724.6 551.7 725.4 553.4 726.2 556C727 558.6 728.2 562.5 728.2 565.8C728.2 569.1 727 573.4 726.2 576C725.4 578.6 724.5 580 723.5 581.5C722.5 583 721.9 583.6 720.3 584.8C718.7 585.9 715 587.8 713.9 588.4C714.5 588.8 716.2 590.4 717.5 591C718.8 591.6 720 592.4 721.9 592C723.8 591.6 726.8 590.6 729 588.8C731.2 586.9 733.9 584.7 735.4 580.9C736.9 577.1 738.2 571 738.2 565.8C738.2 560.6 736.9 554 735.4 549.9C733.9 545.8 731.4 543.1 729 541.1C726.6 539.1 723.4 538.2 721.1 538C718.9 537.8 717 539.1 715.5 540C714 540.9 712.5 542.8 711.9 543.3" fill="#fff" stroke="#2a2a2a" stroke-width="2" stroke-linecap="round" stroke-linejoin="round"/>
<path d="M731.4 542.7C732.3 544.1 735.3 547.1 736.6 551C737.9 554.9 739 561 739 565.8C739 570.6 737.7 576.2 736.6 580C735.5 583.8 733.2 587.2 732.5 588.6" fill="none" stroke="#2a2a2a" stroke-width="1.4" stroke-linecap="round"/>
</g>
<path class="dim" d="M1102.2 68.1H1185.5M1102.2 68.1L1082.2 100.8M1117.8 101.5H1179.8M1092.4 132.9H1153.7M1095.8 198.5H1179.8M1148 127.6V201.4M1173.7 97V201.4"/>
<circle cx="1109.4" cy="56.9" r="7" class="dim"/><path class="dim" d="M1104.4 62L1113.8 51.8"/>
<text transform="translate(1121.4 61.9) scale(1.02 1)" font-size="16" fill="#1a1a1a" stroke="#1a1a1a" stroke-width="0.25">16,0 mm</text>
<text class="dt" font-size="19.6" transform="translate(1143.5 163.4) rotate(-90)">55</text>
<text class="dt" font-size="19.6" transform="translate(1169.1 154.5) rotate(-90)">83</text>
</g>
<g id="engine">
<path d="M923 363.1L915 363.1L916.1 353.3L918.8 352.6L920.3 359.6L923 359.6L923 363.1L915 363.8L906.6 364.4L900.3 369L837.3 366.9L831 371.1L828.9 377.4L822.6 378.5L819.5 383.7L819.5 394.2L822.6 399.5L828.9 400.1L832.1 406.8L837.3 410L860.4 413.1L864.6 421.5L877.2 440.4L880.4 446.3L907.7 441.5L908.7 437.3L933.9 428.9L948.6 427.8L949.7 424.7L956 423.6L962.3 459.3L965.4 460.4L1007.4 454.1L1009.5 429.9L1019 423.6L1014.8 415.2L1023.2 406.8L1014.8 387.9L1021.1 363.1Z" fill="#d8d9d9" stroke="#3a3a3a" stroke-width="1" stroke-linejoin="round"/>
<path d="M923 363.1V359.6H926.6V317.6H937.1V306C937.1 300 940 297.2 946 297.2H968.5A6 6 0 0 1 968.5 309.2H954C950 309.2 948.6 311 948.6 314V317.6H998V306C998 300 1001 297.2 1007 297.2H1020.3A6 6 0 0 1 1020.3 309.2H1014C1011 309.2 1009.5 311 1009.5 314V317.6H1019.6V359L1021.1 359.8V363.1Z" fill="#d8d9d9" stroke="#3a3a3a" stroke-width="1" stroke-linejoin="round"/>
<circle cx="1008.9" cy="339.6" r="2.8" fill="#1a1a1a"/><circle cx="1008.9" cy="398.4" r="2.8" fill="#1a1a1a"/>
<path d="M1008.9 339.6L1050 368.8L1008.9 398.4M1050 368.8H1180" fill="none" stroke="#1a1a1a" stroke-width="2.1" stroke-linecap="round" stroke-dasharray="0.01 3.45"/>
<text transform="translate(1067.8 362.6) scale(1.145 1)" font-size="22" font-weight="bold" fill="#1a1a1a" stroke="#1a1a1a" stroke-width="0.8">802.093M</text>
</g>
<g id="iso">
<rect x="848" y="508" width="406" height="350.7" fill="#fff"/>
<path d="M885.3 701.4L885 702.5L884.6 704L884.1 705.8L883.5 707.8L882.9 709.9L882.2 711.9L881.6 713.8L881 715.5L880.4 717L879.9 718.3L879.4 719.6L878.8 720.8L878.2 722L877.5 723.2L876.7 724.4L875.7 725.5L874.4 726.7L872.9 728L871.3 729.3L869.5 730.5L867.8 731.7L866.2 732.7L864.8 733.7L863.7 734.4L862.9 735L862.3 735.4L861.9 735.6L861.6 735.7L861.4 735.8L861.2 735.9L861.1 736L860.8 736.1L860.5 736.4L860.2 736.6L859.9 736.8L859.6 737.1L859.3 737.3L859 737.6L858.8 737.9L858.5 738.1L858.3 738.4L858.1 738.6L857.9 738.9L857.7 739.2L857.5 739.5L857.3 739.8L857.2 740L857 740.3L856.9 740.6L856.7 740.9L856.6 741.2L856.5 741.5L856.4 741.8L856.4 742.1L856.3 742.4L856.3 742.6L856.2 742.9L856.2 743.2L856.2 743.5L856.2 743.8L856.2 744.1L856.2 744.4L856.2 744.7L856.3 745L856.4 745.3L856.4 745.6L856.5 745.9L856.6 746.2L856.7 746.5L856.9 746.8L857 747.1L857.1 747.3L857.3 747.6L857.5 747.9L857.7 748.2L857.9 748.5L858.1 748.7L858.3 749L858.5 749.3L858.8 749.5L859 749.8L859.3 750L859.5 750.3L859.8 750.5L860.1 750.8L860.4 751L860.8 751.2L861.1 751.5L861.4 751.7L861.8 751.9L862.1 752.1L862.5 752.3L862.8 752.6L863.2 752.8L863.6 752.9L864 753.1L864.4 753.3L864.8 753.5L865.2 753.7L865.7 753.8L866.1 754L866.6 754.1L867 754.3L867.5 754.4L867.9 754.6L868.4 754.7L868.8 754.8L869.3 754.9L869.8 755L870.3 755.1L870.8 755.2L871.3 755.3L871.7 755.4L871.9 755.5L872.1 755.6L872.3 755.6L872.6 755.7L873.2 755.7L874 755.7L875.3 755.8L877.1 755.7L879.4 755.6L882.1 755.5L885 755.4L887.9 755.3L890.6 755.2L893.1 755.2L895.1 755.3L896.6 755.4L897.8 755.5L898.7 755.6L899.5 755.8L900.2 756L900.8 756.3L901.6 756.7L902.4 757.3L903.4 757.9L904.4 758.7L905.3 759.7L906.3 760.7L907.4 761.7L908.4 762.8L909.5 763.8L910.7 764.8L911.9 765.8L913.1 766.8L914.3 767.8L915.6 768.7L917 769.7L918.4 770.7L919.9 771.6L921.6 772.5L923.4 773.3L925.3 774.2L927.3 775L929.5 775.8L931.6 776.6L933.8 777.3L935.9 777.9L937.9 778.5L939.9 778.9L941.9 779.3L943.8 779.6L945.8 779.9L947.7 780.1L949.6 780.2L951.5 780.3L953.3 780.4L955.2 780.4L957.2 780.4L959.2 780.2L961.2 780.1L963 779.9L964.7 779.7L966.1 779.6L967.1 779.5L1008 803L1008.4 803.5L1009.1 804.2L1009.8 805L1010.7 805.8L1011.4 806.8L1012.1 807.7L1012.6 808.6L1012.9 809.4L1012.9 810.2L1012.7 811L1012.4 811.8L1012 812.6L1011.5 813.4L1010.9 814.2L1010.2 815.1L1009.6 816L1008.8 817L1007.9 818.1L1006.8 819.3L1005.8 820.5L1004.7 821.7L1003.8 822.8L1002.9 823.7L1002.3 824.5L1001.9 825.1L1001.7 825.5L1001.6 825.8L1001.5 826L1001.6 826.2L1001.6 826.4L1001.7 826.6L1001.7 826.8L1001.6 827.1L1001.6 827.4L1001.6 827.7L1001.6 828L1001.6 828.3L1001.7 828.6L1001.7 828.9L1001.8 829.2L1001.9 829.5L1002 829.8L1002 830.1L1002.2 830.3L1002.3 830.6L1002.4 830.9L1002.6 831.2L1002.7 831.5L1002.9 831.8L1003.1 832L1003.3 832.3L1003.5 832.6L1003.7 832.9L1003.9 833.1L1004.2 833.4L1004.4 833.6L1004.7 833.9L1004.9 834.1L1005.2 834.4L1005.5 834.6L1005.8 834.9L1006.1 835.1L1006.5 835.3L1006.8 835.6L1007.1 835.8L1007.5 836L1007.8 836.2L1008.2 836.4L1008.6 836.6L1009 836.8L1009.4 837L1009.8 837.2L1010.2 837.3L1010.6 837.5L1011 837.7L1011.5 837.8L1011.9 838L1012.3 838.1L1012.8 838.3L1013.2 838.4L1013.6 838.5L1013.8 838.6L1014 838.7L1014.2 838.8L1014.5 838.9L1015 839L1015.8 839.1L1017.1 839.2L1018.8 839.5L1020.9 839.7L1023.4 839.9L1026.1 840.2L1028.8 840.5L1031.6 840.8L1034.2 841.1L1036.6 841.4L1038.9 841.7L1041.3 842L1043.6 842.4L1045.9 842.7L1048 843.1L1049.9 843.4L1051.6 843.6L1053 843.8L1054.1 844L1054.8 844.1L1055.2 844.1L1055.5 844.1L1055.6 844.1L1055.7 844.1L1055.9 844.1L1056.2 844.1L1056.6 844.1L1057.1 844L1057.5 844L1057.9 844L1058.3 844L1058.7 844L1059.1 843.9L1059.5 843.9L1059.9 843.8L1060.3 843.8L1060.7 843.7L1061 843.7L1061.4 843.6L1061.8 843.5L1062.2 843.4L1062.6 843.4L1063 843.3L1063.3 843.2L1063.7 843.1L1064.1 843L1064.4 842.9L1064.8 842.7L1065.1 842.6L1065.5 842.5L1065.8 842.4L1066.1 842.2L1066.4 842.1L1066.8 841.9L1067.1 841.8L1067.4 841.6L1067.7 841.5L1068 841.3L1068.3 841.2L1068.5 841L1068.8 840.8L1069.1 840.6L1069.3 840.4L1069.6 840.3L1069.8 840.1L1070 839.9L1070.3 839.7L1070.5 839.5L1070.7 839.3L1070.9 839.1L1071.1 838.9L1071.2 838.7L1071.4 838.4L1071.6 838.2L1071.7 838L1071.9 837.8L1072 837.6L1072.1 837.3L1072.2 837.1L1072.3 836.9L1072.4 836.7L1072.5 836.4L1072.6 836.2L1072.6 836L1072.5 835.9L1072.5 835.7L1072.5 835.5L1072.5 835.2L1072.6 834.9L1072.8 834.6L1073.1 834.1L1073.4 833.6L1073.8 833L1074.2 832.4L1074.7 831.8L1075.3 831.2L1076 830.6L1076.8 830.1L1077.8 829.6L1078.9 829.2L1080.1 828.7L1081.4 828.3L1082.8 827.9L1084.2 827.5L1085.6 827.1L1087 826.7L1088.4 826.3L1089.9 825.9L1091.5 825.4L1093.1 825L1094.6 824.6L1096.1 824.2L1097.5 823.8L1098.7 823.4L1099.7 822.9L1100.7 822.5L1101.6 822L1102.4 821.6L1103.2 821.1L1103.8 820.7L1104.3 820.4L1104.8 820.2L1177.3 778.6L1177.8 778L1178.6 777.2L1179.5 776.2L1180.5 775.2L1181.6 774.1L1182.7 772.9L1183.8 771.7L1184.7 770.6L1185.7 769.4L1186.5 768.2L1187.4 767L1188.3 765.7L1189.2 764.4L1190.1 763.2L1191.1 762L1192.1 760.9L1193.1 759.8L1194.1 758.9L1195.1 757.9L1196.1 757L1197.2 756.1L1198.3 755.2L1199.5 754.4L1200.8 753.6L1202.2 752.8L1203.8 751.9L1205.5 751.1L1207.2 750.3L1208.9 749.6L1210.4 748.9L1211.8 748.3L1212.9 747.8L1213.7 747.4L1214.3 747.1L1214.7 746.9L1215 746.8L1215.2 746.7L1215.4 746.6L1215.6 746.5L1215.9 746.3L1216.2 746.1L1216.5 745.9L1216.8 745.7L1217.2 745.4L1217.4 745.2L1217.7 745L1218 744.7L1218.3 744.5L1218.5 744.3L1218.8 744L1219 743.8L1219.2 743.5L1219.4 743.2L1219.6 743L1219.8 742.7L1220 742.5L1220.2 742.2L1220.3 741.9L1220.4 741.6L1220.6 741.4L1220.7 741.1L1220.8 740.8L1220.9 740.5L1221 740.2L1221 740L1221.1 739.7L1221.1 739.4L1221.1 739.1L1221.2 738.8L1221.2 738.5L1221.1 738.3L1221.1 738L1221.1 737.7L1221 737.4L1221 737.1L1220.9 736.8L1220.8 736.6L1220.7 736.3L1220.6 736L1220.5 735.7L1220.4 735.5L1220.2 735.2L1220.1 734.9L1219.9 734.6L1219.7 734.4L1219.5 734.1L1219.3 733.9L1219.1 733.6L1218.9 733.4L1218.6 733.1L1218.4 732.9L1218.1 732.6L1217.9 732.4L1217.6 732.1L1217.3 731.9L1217 731.7L1216.7 731.5L1216.4 731.3L1216 731L1215.7 730.8L1215.3 730.6L1215 730.4L1214.6 730.2L1214.2 730.1L1213.9 729.9L1213.5 729.7L1213.1 729.5L1212.7 729.4L1212.3 729.2L1211.8 729.1L1211.4 728.9L1211 728.8L1210.5 728.6L1210.1 728.5L1209.7 728.4L1209.2 728.3L1208.7 728.2L1208.3 728.1L1207.8 728L1207.3 727.9L1206.9 727.8L1206.6 727.8L1206.3 727.8L1206 727.8L1205.6 727.8L1205.1 727.7L1204.4 727.6L1203.5 727.5L1202.4 727.3L1201.1 727L1199.6 726.7L1198.1 726.4L1196.4 726.1L1194.6 725.8L1192.7 725.5L1190.8 725.3L1188.6 725.1L1186.3 725L1183.7 724.9L1181.2 724.8L1178.5 724.7L1176 724.5L1173.6 724.4L1171.4 724.2L1169.3 723.9L1167.4 723.6L1165.5 723.4L1163.8 723L1162.1 722.7L1160.4 722.3L1158.8 721.9L1157.3 721.5L1155.7 721L1154.1 720.4L1152.4 719.7L1150.9 719.1L1149.5 718.4L1148.2 717.8L1147.1 717.3L1146.3 717L1079.3 678.3L1078.9 677.9L1078.3 677.4L1077.6 676.8L1076.9 676.2L1076.2 675.5L1075.5 674.7L1074.9 674L1074.6 673.3L1074.4 672.6L1074.3 671.9L1074.3 671.2L1074.3 670.4L1074.5 669.7L1074.8 668.9L1075.1 668.1L1075.6 667.4L1076.2 666.5L1077 665.7L1078 664.8L1079 664L1080.1 663.1L1081.1 662.3L1082.1 661.5L1082.9 660.8L1083.7 660.1L1084.4 659.4L1085.1 658.8L1085.7 658.2L1086.3 657.7L1086.9 657.2L1087.4 656.7L1087.9 656.3L1088.3 655.9L1088.6 655.6L1088.9 655.3L1089.2 655.1L1089.4 654.8L1089.6 654.6L1089.8 654.4L1090 654.1L1090.2 653.8L1090.4 653.5L1090.6 653.3L1090.8 653L1090.9 652.7L1091.1 652.4L1091.2 652.1L1091.3 651.8L1091.4 651.5L1091.5 651.2L1091.6 650.9L1091.7 650.5L1091.7 650.2L1091.8 649.9L1091.8 649.6L1091.8 649.3L1091.8 649L1091.8 648.7L1091.8 648.4L1091.7 648.1L1091.7 647.8L1091.6 647.5L1091.5 647.2L1091.4 646.8L1091.3 646.5L1091.2 646.2L1091.1 645.9L1091 645.6L1090.8 645.3L1090.6 645.1L1090.4 644.8L1090.3 644.5L1090.1 644.2L1089.8 643.9L1089.6 643.6L1089.4 643.4L1089.1 643.1L1088.8 642.8L1088.6 642.5L1088.3 642.3L1088 642L1087.7 641.8L1087.4 641.5L1087 641.3L1086.7 641L1086.3 640.8L1086 640.6L1085.6 640.4L1085.2 640.1L1084.8 639.9L1084.4 639.7L1084 639.5L1083.6 639.3L1083.2 639.1L1082.7 639L1082.3 638.8L1081.9 638.6L1081.4 638.5L1080.9 638.3L1080.5 638.1L1080 638L1079.5 637.9L1079 637.7L1078.5 637.6L1078.1 637.5L1077.6 637.4L1077 637.3L1076.5 637.2L1076 637.1L1075.5 637L1075 636.9L1074.5 636.9L1074 636.8L1073.7 636.8L1073.3 636.8L1073 636.7L1072.6 636.7L1072 636.7L1071.2 636.7L1070.2 636.6L1068.9 636.6L1067.3 636.6L1065.4 636.7L1063.5 636.7L1061.4 636.7L1059.4 636.6L1057.4 636.5L1055.5 636.4L1053.8 636.2L1052.3 636L1050.8 635.9L1049.3 635.6L1047.7 635.3L1045.9 634.9L1043.8 634.4L1041.4 633.7L1038.4 632.8L1034.9 631.7L1031 630.4L1026.9 629L1022.9 627.7L1019.2 626.4L1016.1 625.3L1013.7 624.5L1012.1 624L1011.1 623.7L1010.5 623.6L1010.3 623.5L1010.3 623.5L1010.4 623.6L1010.3 623.6L1010 623.6L1009.5 623.5L1009 623.4L1008.5 623.3L1008 623.3L1007.5 623.2L1007 623.1L1006.5 623.1L1006 623.1L1005.5 623L1005 623L1004.5 623L1004 623L1003.5 623L1002.9 623L1002.4 623L1001.9 623L1001.4 623L1000.9 623.1L1000.4 623.1L999.9 623.2L999.4 623.2L998.9 623.3L998.4 623.3L997.9 623.4L997.4 623.5L997 623.6L996.5 623.7L996 623.8L995.5 623.9L995.1 624L994.6 624.2L994.2 624.3L993.7 624.4L993.3 624.6L992.8 624.7L992.4 624.9L992 625.1L991.6 625.2L991.1 625.4L990.7 625.6L990.4 625.8L990 626L989.6 626.2L989.2 626.4L988.9 626.6L988.5 626.8L988.2 627L987.9 627.2L987.5 627.5L987.2 627.7L986.9 627.9L986.6 628.2L986.4 628.4L986.1 628.7L985.8 628.9L985.6 629.2L985.4 629.4L985.1 629.7L984.9 630L984.7 630.3L984.5 630.5L984.4 630.8L984.2 631.1L984.1 631.4L984 631.6L983.9 631.8L983.9 631.9L984 632.1L983.9 632.3L983.8 632.6L983.6 633L983.3 633.7L982.9 634.5L982.5 635.5L982.1 636.6L981.5 637.8L980.8 639.1L979.9 640.4L978.8 641.8L977.4 643.1L975.6 644.5L973.5 645.9L971.1 647.3L968.6 648.7L965.9 650.2L963.1 651.7L960.4 653.3L957.7 654.9L954.9 656.7L951.8 658.7L948.5 660.8L945.3 662.9L942.2 665L939.4 666.8L937 668.3L935.3 669.5Z" fill="#fff" stroke="#1a1a1a" stroke-width="1.6" stroke-linecap="round" stroke-linejoin="round"/>
<path d="M885.3 692.7L885 693.8L884.6 695.3L884.1 697.1L883.5 699.1L882.9 701.2L882.2 703.2L881.6 705.1L881 706.8L880.4 708.3L879.9 709.6L879.4 710.9L878.8 712.1L878.2 713.3L877.5 714.5L876.7 715.7L875.7 716.8L874.4 718L872.9 719.3L871.3 720.6L869.5 721.8L867.8 723L866.2 724L864.8 725L863.7 725.7L862.9 726.3L862.3 726.7L861.9 726.9L861.6 727L861.4 727.1L861.2 727.2L861.1 727.3L860.8 727.4L860.5 727.7L860.2 727.9L859.9 728.1L859.6 728.4L859.3 728.6L859 728.9L858.8 729.2L858.5 729.4L858.3 729.7L858.1 729.9L857.9 730.2L857.7 730.5L857.5 730.8L857.3 731.1L857.2 731.3L857 731.6L856.9 731.9L856.7 732.2L856.6 732.5L856.5 732.8L856.4 733.1L856.4 733.4L856.3 733.7L856.3 733.9L856.2 734.2L856.2 734.5L856.2 734.8L856.2 735.1L856.2 735.4L856.2 735.7L856.2 736L856.3 736.3L856.4 736.6L856.4 736.9L856.5 737.2L856.6 737.5L856.7 737.8L856.9 738.1L857 738.4L857.1 738.6L857.3 738.9L857.5 739.2L857.7 739.5L857.9 739.8L858.1 740L858.3 740.3L858.5 740.6L858.8 740.8L859 741.1L859.3 741.3L859.5 741.6L859.8 741.8L860.1 742.1L860.4 742.3L860.8 742.5L861.1 742.8L861.4 743L861.8 743.2L862.1 743.4L862.5 743.6L862.8 743.9L863.2 744.1L863.6 744.2L864 744.4L864.4 744.6L864.8 744.8L865.2 745L865.7 745.1L866.1 745.3L866.6 745.4L867 745.6L867.5 745.7L867.9 745.9L868.4 746L868.8 746.1L869.3 746.2L869.8 746.3L870.3 746.4L870.8 746.5L871.3 746.6L871.7 746.7L871.9 746.8L872.1 746.9L872.3 746.9L872.6 747L873.2 747L874 747L875.3 747.1L877.1 747L879.4 746.9L882.1 746.8L885 746.7L887.9 746.6L890.6 746.5L893.1 746.5L895.1 746.6L896.6 746.7L897.8 746.8L898.7 746.9L899.5 747.1L900.2 747.3L900.8 747.6L901.6 748L902.4 748.6L903.4 749.2L904.4 750L905.3 751L906.3 752L907.4 753L908.4 754.1L909.5 755.1L910.7 756.1L911.9 757.1L913.1 758.1L914.3 759.1L915.6 760L917 761L918.4 762L919.9 762.9L921.6 763.8L923.4 764.6L925.3 765.5L927.3 766.3L929.5 767.1L931.6 767.9L933.8 768.6L935.9 769.2L937.9 769.8L939.9 770.2L941.9 770.6L943.8 770.9L945.8 771.2L947.7 771.4L949.6 771.5L951.5 771.6L953.3 771.7L955.2 771.7L957.2 771.7L959.2 771.5L961.2 771.4L963 771.2L964.7 771L966.1 770.9L967.1 770.8L1008 794.3L1008.4 794.8L1009.1 795.5L1009.8 796.3L1010.7 797.1L1011.4 798.1L1012.1 799L1012.6 799.9L1012.9 800.7L1012.9 801.5L1012.7 802.3L1012.4 803.1L1012 803.9L1011.5 804.7L1010.9 805.5L1010.2 806.4L1009.6 807.3L1008.8 808.3L1007.9 809.4L1006.8 810.6L1005.8 811.8L1004.7 813L1003.8 814.1L1002.9 815L1002.3 815.8L1001.9 816.4L1001.7 816.8L1001.6 817.1L1001.5 817.3L1001.6 817.5L1001.6 817.7L1001.7 817.9L1001.7 818.1L1001.6 818.4L1001.6 818.7L1001.6 819L1001.6 819.3L1001.6 819.6L1001.7 819.9L1001.7 820.2L1001.8 820.5L1001.9 820.8L1002 821.1L1002 821.4L1002.2 821.6L1002.3 821.9L1002.4 822.2L1002.6 822.5L1002.7 822.8L1002.9 823.1L1003.1 823.3L1003.3 823.6L1003.5 823.9L1003.7 824.2L1003.9 824.4L1004.2 824.7L1004.4 824.9L1004.7 825.2L1004.9 825.4L1005.2 825.7L1005.5 825.9L1005.8 826.2L1006.1 826.4L1006.5 826.6L1006.8 826.9L1007.1 827.1L1007.5 827.3L1007.8 827.5L1008.2 827.7L1008.6 827.9L1009 828.1L1009.4 828.3L1009.8 828.5L1010.2 828.6L1010.6 828.8L1011 829L1011.5 829.1L1011.9 829.3L1012.3 829.4L1012.8 829.6L1013.2 829.7L1013.6 829.8L1013.8 829.9L1014 830L1014.2 830.1L1014.5 830.2L1015 830.3L1015.8 830.4L1017.1 830.5L1018.8 830.8L1020.9 831L1023.4 831.2L1026.1 831.5L1028.8 831.8L1031.6 832.1L1034.2 832.4L1036.6 832.7L1038.9 833L1041.3 833.3L1043.6 833.7L1045.9 834L1048 834.4L1049.9 834.7L1051.6 834.9L1053 835.1L1054.1 835.3L1054.8 835.4L1055.2 835.4L1055.5 835.4L1055.6 835.4L1055.7 835.4L1055.9 835.4L1056.2 835.4L1056.6 835.4L1057.1 835.3L1057.5 835.3L1057.9 835.3L1058.3 835.3L1058.7 835.3L1059.1 835.2L1059.5 835.2L1059.9 835.1L1060.3 835.1L1060.7 835L1061 835L1061.4 834.9L1061.8 834.8L1062.2 834.7L1062.6 834.7L1063 834.6L1063.3 834.5L1063.7 834.4L1064.1 834.3L1064.4 834.2L1064.8 834L1065.1 833.9L1065.5 833.8L1065.8 833.7L1066.1 833.5L1066.4 833.4L1066.8 833.2L1067.1 833.1L1067.4 832.9L1067.7 832.8L1068 832.6L1068.3 832.5L1068.5 832.3L1068.8 832.1L1069.1 831.9L1069.3 831.7L1069.6 831.6L1069.8 831.4L1070 831.2L1070.3 831L1070.5 830.8L1070.7 830.6L1070.9 830.4L1071.1 830.2L1071.2 830L1071.4 829.7L1071.6 829.5L1071.7 829.3L1071.9 829.1L1072 828.9L1072.1 828.6L1072.2 828.4L1072.3 828.2L1072.4 828L1072.5 827.7L1072.6 827.5L1072.6 827.3L1072.5 827.2L1072.5 827L1072.5 826.8L1072.5 826.5L1072.6 826.2L1072.8 825.9L1073.1 825.4L1073.4 824.9L1073.8 824.3L1074.2 823.7L1074.7 823.1L1075.3 822.5L1076 821.9L1076.8 821.4L1077.8 820.9L1078.9 820.5L1080.1 820L1081.4 819.6L1082.8 819.2L1084.2 818.8L1085.6 818.4L1087 818L1088.4 817.6L1089.9 817.2L1091.5 816.7L1093.1 816.3L1094.6 815.9L1096.1 815.5L1097.5 815.1L1098.7 814.7L1099.7 814.2L1100.7 813.8L1101.6 813.3L1102.4 812.9L1103.2 812.4L1103.8 812L1104.3 811.7L1104.8 811.5L1177.3 769.9L1177.8 769.3L1178.6 768.5L1179.5 767.5L1180.5 766.5L1181.6 765.4L1182.7 764.2L1183.8 763L1184.7 761.9L1185.7 760.7L1186.5 759.5L1187.4 758.3L1188.3 757L1189.2 755.7L1190.1 754.5L1191.1 753.3L1192.1 752.2L1193.1 751.1L1194.1 750.2L1195.1 749.2L1196.1 748.3L1197.2 747.4L1198.3 746.5L1199.5 745.7L1200.8 744.9L1202.2 744.1L1203.8 743.2L1205.5 742.4L1207.2 741.6L1208.9 740.9L1210.4 740.2L1211.8 739.6L1212.9 739.1L1213.7 738.7L1214.3 738.4L1214.7 738.2L1215 738.1L1215.2 738L1215.4 737.9L1215.6 737.8L1215.9 737.6L1216.2 737.4L1216.5 737.2L1216.8 737L1217.2 736.7L1217.4 736.5L1217.7 736.3L1218 736L1218.3 735.8L1218.5 735.6L1218.8 735.3L1219 735.1L1219.2 734.8L1219.4 734.5L1219.6 734.3L1219.8 734L1220 733.8L1220.2 733.5L1220.3 733.2L1220.4 732.9L1220.6 732.7L1220.7 732.4L1220.8 732.1L1220.9 731.8L1221 731.5L1221 731.3L1221.1 731L1221.1 730.7L1221.1 730.4L1221.2 730.1L1221.2 729.8L1221.1 729.6L1221.1 729.3L1221.1 729L1221 728.7L1221 728.4L1220.9 728.1L1220.8 727.9L1220.7 727.6L1220.6 727.3L1220.5 727L1220.4 726.8L1220.2 726.5L1220.1 726.2L1219.9 725.9L1219.7 725.7L1219.5 725.4L1219.3 725.2L1219.1 724.9L1218.9 724.7L1218.6 724.4L1218.4 724.2L1218.1 723.9L1217.9 723.7L1217.6 723.4L1217.3 723.2L1217 723L1216.7 722.8L1216.4 722.6L1216 722.3L1215.7 722.1L1215.3 721.9L1215 721.7L1214.6 721.5L1214.2 721.4L1213.9 721.2L1213.5 721L1213.1 720.8L1212.7 720.7L1212.3 720.5L1211.8 720.4L1211.4 720.2L1211 720.1L1210.5 719.9L1210.1 719.8L1209.7 719.7L1209.2 719.6L1208.7 719.5L1208.3 719.4L1207.8 719.3L1207.3 719.2L1206.9 719.1L1206.6 719.1L1206.3 719.1L1206 719.1L1205.6 719.1L1205.1 719L1204.4 718.9L1203.5 718.8L1202.4 718.6L1201.1 718.3L1199.6 718L1198.1 717.7L1196.4 717.4L1194.6 717.1L1192.7 716.8L1190.8 716.6L1188.6 716.4L1186.3 716.3L1183.7 716.2L1181.2 716.1L1178.5 716L1176 715.8L1173.6 715.7L1171.4 715.5L1169.3 715.2L1167.4 714.9L1165.5 714.7L1163.8 714.3L1162.1 714L1160.4 713.6L1158.8 713.2L1157.3 712.8L1155.7 712.3L1154.1 711.7L1152.4 711L1150.9 710.4L1149.5 709.7L1148.2 709.1L1147.1 708.6L1146.3 708.3L1079.3 669.6L1078.9 669.2L1078.3 668.7L1077.6 668.1L1076.9 667.5L1076.2 666.8L1075.5 666L1074.9 665.3L1074.6 664.6L1074.4 663.9L1074.3 663.2L1074.3 662.5L1074.3 661.7L1074.5 661L1074.8 660.2L1075.1 659.4L1075.6 658.7L1076.2 657.8L1077 657L1078 656.1L1079 655.3L1080.1 654.4L1081.1 653.6L1082.1 652.8L1082.9 652.1L1083.7 651.4L1084.4 650.7L1085.1 650.1L1085.7 649.5L1086.3 649L1086.9 648.5L1087.4 648L1087.9 647.6L1088.3 647.2L1088.6 646.9L1088.9 646.6L1089.2 646.4L1089.4 646.1L1089.6 645.9L1089.8 645.7L1090 645.4L1090.2 645.1L1090.4 644.8L1090.6 644.6L1090.8 644.3L1090.9 644L1091.1 643.7L1091.2 643.4L1091.3 643.1L1091.4 642.8L1091.5 642.5L1091.6 642.2L1091.7 641.8L1091.7 641.5L1091.8 641.2L1091.8 640.9L1091.8 640.6L1091.8 640.3L1091.8 640L1091.8 639.7L1091.7 639.4L1091.7 639.1L1091.6 638.8L1091.5 638.5L1091.4 638.1L1091.3 637.8L1091.2 637.5L1091.1 637.2L1091 636.9L1090.8 636.6L1090.6 636.4L1090.4 636.1L1090.3 635.8L1090.1 635.5L1089.8 635.2L1089.6 634.9L1089.4 634.7L1089.1 634.4L1088.8 634.1L1088.6 633.8L1088.3 633.6L1088 633.3L1087.7 633.1L1087.4 632.8L1087 632.6L1086.7 632.3L1086.3 632.1L1086 631.9L1085.6 631.7L1085.2 631.4L1084.8 631.2L1084.4 631L1084 630.8L1083.6 630.6L1083.2 630.4L1082.7 630.3L1082.3 630.1L1081.9 629.9L1081.4 629.8L1080.9 629.6L1080.5 629.4L1080 629.3L1079.5 629.2L1079 629L1078.5 628.9L1078.1 628.8L1077.6 628.7L1077 628.6L1076.5 628.5L1076 628.4L1075.5 628.3L1075 628.2L1074.5 628.2L1074 628.1L1073.7 628.1L1073.3 628.1L1073 628L1072.6 628L1072 628L1071.2 628L1070.2 627.9L1068.9 627.9L1067.3 627.9L1065.4 628L1063.5 628L1061.4 628L1059.4 627.9L1057.4 627.8L1055.5 627.7L1053.8 627.5L1052.3 627.3L1050.8 627.2L1049.3 626.9L1047.7 626.6L1045.9 626.2L1043.8 625.7L1041.4 625L1038.4 624.1L1034.9 623L1031 621.7L1026.9 620.3L1022.9 619L1019.2 617.7L1016.1 616.6L1013.7 615.8L1012.1 615.3L1011.1 615L1010.5 614.9L1010.3 614.8L1010.3 614.8L1010.4 614.9L1010.3 614.9L1010 614.9L1009.5 614.8L1009 614.7L1008.5 614.6L1008 614.6L1007.5 614.5L1007 614.4L1006.5 614.4L1006 614.4L1005.5 614.3L1005 614.3L1004.5 614.3L1004 614.3L1003.5 614.3L1002.9 614.3L1002.4 614.3L1001.9 614.3L1001.4 614.3L1000.9 614.4L1000.4 614.4L999.9 614.5L999.4 614.5L998.9 614.6L998.4 614.6L997.9 614.7L997.4 614.8L997 614.9L996.5 615L996 615.1L995.5 615.2L995.1 615.3L994.6 615.5L994.2 615.6L993.7 615.7L993.3 615.9L992.8 616L992.4 616.2L992 616.4L991.6 616.5L991.1 616.7L990.7 616.9L990.4 617.1L990 617.3L989.6 617.5L989.2 617.7L988.9 617.9L988.5 618.1L988.2 618.3L987.9 618.5L987.5 618.8L987.2 619L986.9 619.2L986.6 619.5L986.4 619.7L986.1 620L985.8 620.2L985.6 620.5L985.4 620.7L985.1 621L984.9 621.3L984.7 621.6L984.5 621.8L984.4 622.1L984.2 622.4L984.1 622.7L984 622.9L983.9 623.1L983.9 623.2L984 623.4L983.9 623.6L983.8 623.9L983.6 624.3L983.3 625L982.9 625.8L982.5 626.8L982.1 627.9L981.5 629.1L980.8 630.4L979.9 631.7L978.8 633.1L977.4 634.4L975.6 635.8L973.5 637.2L971.1 638.6L968.6 640L965.9 641.5L963.1 643L960.4 644.6L957.7 646.2L954.9 648L951.8 650L948.5 652.1L945.3 654.2L942.2 656.3L939.4 658.1L937 659.6L935.3 660.8Z" fill="#fff" stroke="#1a1a1a" stroke-width="1.6" stroke-linecap="round" stroke-linejoin="round"/>
<path d="M856.2 735.1V743.8M1012.9 801.5V810.2M1001.5 817.3V826M1001.7 817.9V826.6M1001.6 819V827.7M1072.6 827.5V836.2M1072.5 826.8V835.5M1221.2 729.8V738.5" fill="none" stroke="#1a1a1a" stroke-width="1.6" stroke-linecap="round" stroke-linejoin="round"/>
<ellipse cx="877.1" cy="735" rx="10.1" ry="6" fill="#fff" stroke="#1a1a1a" stroke-width="1.6" stroke-linecap="round" stroke-linejoin="round"/>
<path d="M869.9 738.7A9.1 5.4 0 0 1 884.4 738.7" fill="none" stroke="#1a1a1a" stroke-width="1.6"/>
<ellipse cx="1022.5" cy="818.9" rx="10.1" ry="6" fill="#fff" stroke="#1a1a1a" stroke-width="1.6" stroke-linecap="round" stroke-linejoin="round"/>
<path d="M1015.2 822.6A9.1 5.4 0 0 1 1029.7 822.6" fill="none" stroke="#1a1a1a" stroke-width="1.6"/>
<ellipse cx="1003.5" cy="626" rx="10.1" ry="6" fill="#fff" stroke="#1a1a1a" stroke-width="1.6" stroke-linecap="round" stroke-linejoin="round"/>
<path d="M996.3 629.7A9.1 5.4 0 0 1 1010.8 629.7" fill="none" stroke="#1a1a1a" stroke-width="1.6"/>
<ellipse cx="1035.8" cy="630.2" rx="8.6" ry="5.1" fill="#fff" stroke="#1a1a1a" stroke-width="1.6" stroke-linecap="round" stroke-linejoin="round"/>
<path d="M1029.6 633.4A7.7 4.6 0 0 1 1041.9 633.4" fill="none" stroke="#1a1a1a" stroke-width="1.6"/>
<ellipse cx="1070.2" cy="640.4" rx="10.1" ry="6" fill="#fff" stroke="#1a1a1a" stroke-width="1.6" stroke-linecap="round" stroke-linejoin="round"/>
<path d="M1063 644.1A9.1 5.4 0 0 1 1077.4 644.1" fill="none" stroke="#1a1a1a" stroke-width="1.6"/>
<ellipse cx="1201.8" cy="729.9" rx="10.1" ry="6" fill="#fff" stroke="#1a1a1a" stroke-width="1.6" stroke-linecap="round" stroke-linejoin="round"/>
<path d="M1194.5 733.7A9.1 5.4 0 0 1 1209 733.7" fill="none" stroke="#1a1a1a" stroke-width="1.6"/>
<ellipse cx="1056.4" cy="825.9" rx="7.8" ry="5" transform="rotate(4 1056.4 825.9)" fill="#fff" stroke="#1a1a1a" stroke-width="1.6" stroke-linecap="round" stroke-linejoin="round"/>
<path d="M1050.9 829.3A7 4.5 0 0 1 1061.9 829.5" fill="none" stroke="#1a1a1a" stroke-width="1.6"/>
<path d="M1183.6 636.8L1183.5 635.8L1183.5 634.8L1183.4 633.8L1183.2 632.9L1183 631.9L1182.8 630.9L1182.5 630L1182.2 629L1181.8 628.1L1181.4 627.1L1180.9 626.2L1180.4 625.2L1179.9 624.3L1179.3 623.4L1178.7 622.5L1178 621.6L1177.3 620.7L1176.6 619.8L1175.8 618.9L1175 618.1L1174.1 617.2L1173.2 616.4L1172.3 615.6L1171.3 614.8L1170.3 614L1169.3 613.2L1168.2 612.5L1167.1 611.7L1165.9 611L1164.7 610.3L1045.6 541.5L1044.4 540.9L1043.1 540.2L1041.8 539.6L1040.5 539L1039.2 538.4L1037.8 537.8L1036.4 537.3L1035 536.7L1033.5 536.2L1032 535.8L1030.5 535.3L1029 534.8L1027.5 534.4L1026 534L1024.4 533.7L1022.8 533.3L1021.2 533L1019.6 532.7L1018 532.4L1016.3 532.2L1014.7 531.9L1013 531.7L1011.4 531.6L1009.7 531.4L1008 531.3L1006.3 531.2L1004.6 531.1L1002.9 531.1L1001.2 531L999.5 531L997.9 531.1L996.2 531.1L994.5 531.2L992.8 531.3L991.1 531.4L989.4 531.6L987.8 531.7L986.1 531.9L984.5 532.2L982.8 532.4L981.2 532.7L979.6 533L978 533.3L976.4 533.7L974.8 534L973.3 534.4L971.8 534.8L970.2 535.3L968.8 535.8L967.3 536.2L965.8 536.7L964.4 537.3L963 537.8L961.6 538.4L960.3 539L959 539.6L957.7 540.2L956.4 540.9L955.2 541.5L905.3 570.4L904.1 571.1L902.9 571.8L901.8 572.5L900.7 573.3L899.7 574L898.7 574.8L897.7 575.6L896.8 576.5L895.9 577.3L895 578.1L894.2 579L893.4 579.8L892.7 580.7L892 581.6L891.3 582.5L890.7 583.4L890.1 584.3L889.6 585.3L889.1 586.2L888.6 587.1L888.2 588.1L887.8 589.1L887.5 590L887.2 591L887 591.9L886.8 592.9L886.6 593.9L886.5 594.9L886.5 595.8L886.4 596.8L886.4 703L886.5 704L886.5 705L886.6 706L886.8 706.9L887 707.9L887.2 708.9L887.5 709.8L887.8 710.8L888.2 711.7L888.6 712.7L889.1 713.6L889.6 714.6L890.1 715.5L890.7 716.4L891.3 717.3L892 718.2L892.7 719.1L893.4 720L894.2 720.9L895 721.7L895.9 722.6L896.8 723.4L897.7 724.2L898.7 725L899.7 725.8L900.7 726.6L901.8 727.3L902.9 728.1L904.1 728.8L905.3 729.5L1024.4 798.3L1025.6 798.9L1026.9 799.6L1028.2 800.2L1029.5 800.8L1030.8 801.4L1032.2 802L1033.6 802.5L1035 803.1L1036.5 803.6L1038 804L1039.5 804.5L1041 805L1042.5 805.4L1044 805.8L1045.6 806.1L1047.2 806.5L1048.8 806.8L1050.4 807.1L1052 807.4L1053.7 807.6L1055.3 807.9L1057 808.1L1058.6 808.2L1060.3 808.4L1062 808.5L1063.7 808.6L1065.4 808.7L1067.1 808.7L1068.8 808.8L1070.5 808.8L1072.1 808.7L1073.8 808.7L1075.5 808.6L1077.2 808.5L1078.9 808.4L1080.6 808.2L1082.2 808.1L1083.9 807.9L1085.5 807.6L1087.2 807.4L1088.8 807.1L1090.4 806.8L1092 806.5L1093.6 806.1L1095.2 805.8L1096.7 805.4L1098.2 805L1099.8 804.5L1101.2 804L1102.7 803.6L1104.2 803.1L1105.6 802.5L1107 802L1108.4 801.4L1109.7 800.8L1111 800.2L1112.3 799.6L1113.6 798.9L1114.8 798.3L1164.7 769.4L1165.9 768.7L1167.1 768L1168.2 767.3L1169.3 766.5L1170.3 765.8L1171.3 765L1172.3 764.2L1173.2 763.3L1174.1 762.5L1175 761.7L1175.8 760.8L1176.6 760L1177.3 759.1L1178 758.2L1178.7 757.3L1179.3 756.4L1179.9 755.5L1180.4 754.5L1180.9 753.6L1181.4 752.7L1181.8 751.7L1182.2 750.7L1182.5 749.8L1182.8 748.8L1183 747.9L1183.2 746.9L1183.4 745.9L1183.5 744.9L1183.5 744L1183.6 743Z" fill="#fff" stroke="none"/>
<path d="M886.4 703L886.5 704L886.5 705L886.6 706L886.8 706.9L887 707.9L887.2 708.9L887.5 709.8L887.8 710.8L888.2 711.7L888.6 712.7L889.1 713.6L889.6 714.6L890.1 715.5L890.7 716.4L891.3 717.3L892 718.2L892.7 719.1L893.4 720L894.2 720.9L895 721.7L895.9 722.6L896.8 723.4L897.7 724.2L898.7 725L899.7 725.8L900.7 726.6L901.8 727.3L902.9 728.1L904.1 728.8L905.3 729.5L1024.4 798.3L1025.6 798.9L1026.9 799.6L1028.2 800.2L1029.5 800.8L1030.8 801.4L1032.2 802L1033.6 802.5L1035 803.1L1036.5 803.6L1038 804L1039.5 804.5L1041 805L1042.5 805.4L1044 805.8L1045.6 806.1L1047.2 806.5L1048.8 806.8L1050.4 807.1L1052 807.4L1053.7 807.6L1055.3 807.9L1057 808.1L1058.6 808.2L1060.3 808.4L1062 808.5L1063.7 808.6L1065.4 808.7L1067.1 808.7L1068.8 808.8L1070.5 808.8L1072.1 808.7L1073.8 808.7L1075.5 808.6L1077.2 808.5L1078.9 808.4L1080.6 808.2L1082.2 808.1L1083.9 807.9L1085.5 807.6L1087.2 807.4L1088.8 807.1L1090.4 806.8L1092 806.5L1093.6 806.1L1095.2 805.8L1096.7 805.4L1098.2 805L1099.8 804.5L1101.2 804L1102.7 803.6L1104.2 803.1L1105.6 802.5L1107 802L1108.4 801.4L1109.7 800.8L1111 800.2L1112.3 799.6L1113.6 798.9L1114.8 798.3L1164.7 769.4L1165.9 768.7L1167.1 768L1168.2 767.3L1169.3 766.5L1170.3 765.8L1171.3 765L1172.3 764.2L1173.2 763.3L1174.1 762.5L1175 761.7L1175.8 760.8L1176.6 760L1177.3 759.1L1178 758.2L1178.7 757.3L1179.3 756.4L1179.9 755.5L1180.4 754.5L1180.9 753.6L1181.4 752.7L1181.8 751.7L1182.2 750.7L1182.5 749.8L1182.8 748.8L1183 747.9L1183.2 746.9L1183.4 745.9L1183.5 744.9L1183.5 744L1183.6 743" fill="none" stroke="#1a1a1a" stroke-width="1.6" stroke-linecap="round" stroke-linejoin="round"/>
<path d="M886.4 596.8V703M1183.6 636.8V743" fill="none" stroke="#1a1a1a" stroke-width="1.8"/>
<path d="M886.4 689L886.5 690L886.5 691L886.6 692L886.8 692.9L887 693.9L887.2 694.9L887.5 695.8L887.8 696.8L888.2 697.7L888.6 698.7L889.1 699.6L889.6 700.6L890.1 701.5L890.7 702.4L891.3 703.3L892 704.2L892.7 705.1L893.4 706L894.2 706.9L895 707.7L895.9 708.6L896.8 709.4L897.7 710.2L898.7 711L899.7 711.8L900.7 712.6L901.8 713.3L902.9 714.1L904.1 714.8L905.3 715.5L1024.4 784.3L1025.6 784.9L1026.9 785.6L1028.2 786.2L1029.5 786.8L1030.8 787.4L1032.2 788L1033.6 788.5L1035 789.1L1036.5 789.6L1038 790L1039.5 790.5L1041 791L1042.5 791.4L1044 791.8L1045.6 792.1L1047.2 792.5L1048.8 792.8L1050.4 793.1L1052 793.4L1053.7 793.6L1055.3 793.9L1057 794.1L1058.6 794.2L1060.3 794.4L1062 794.5L1063.7 794.6L1065.4 794.7L1067.1 794.7L1068.8 794.8L1070.5 794.8L1072.1 794.7L1073.8 794.7L1075.5 794.6L1077.2 794.5L1078.9 794.4L1080.6 794.2L1082.2 794.1L1083.9 793.9L1085.5 793.6L1087.2 793.4L1088.8 793.1L1090.4 792.8L1092 792.5L1093.6 792.1L1095.2 791.8L1096.7 791.4L1098.2 791L1099.8 790.5L1101.2 790L1102.7 789.6L1104.2 789.1L1105.6 788.5L1107 788L1108.4 787.4L1109.7 786.8L1111 786.2L1112.3 785.6L1113.6 784.9L1114.8 784.3L1164.7 755.4L1165.9 754.7L1167.1 754L1168.2 753.3L1169.3 752.5L1170.3 751.8L1171.3 751L1172.3 750.2L1173.2 749.3L1174.1 748.5L1175 747.7L1175.8 746.8L1176.6 746L1177.3 745.1L1178 744.2L1178.7 743.3L1179.3 742.4L1179.9 741.5L1180.4 740.5L1180.9 739.6L1181.4 738.7L1181.8 737.7L1182.2 736.7L1182.5 735.8L1182.8 734.8L1183 733.9L1183.2 732.9L1183.4 731.9L1183.5 730.9L1183.5 730L1183.6 729" fill="none" stroke="#1a1a1a" stroke-width="0.9" stroke-linecap="round" stroke-linejoin="round"/>
<path d="M886.4 691.4L886.5 692.4L886.5 693.4L886.6 694.4L886.8 695.3L887 696.3L887.2 697.3L887.5 698.2L887.8 699.2L888.2 700.1L888.6 701.1L889.1 702L889.6 703L890.1 703.9L890.7 704.8L891.3 705.7L892 706.6L892.7 707.5L893.4 708.4L894.2 709.3L895 710.1L895.9 711L896.8 711.8L897.7 712.6L898.7 713.4L899.7 714.2L900.7 715L901.8 715.7L902.9 716.5L904.1 717.2L905.3 717.9L1024.4 786.7L1025.6 787.3L1026.9 788L1028.2 788.6L1029.5 789.2L1030.8 789.8L1032.2 790.4L1033.6 790.9L1035 791.5L1036.5 792L1038 792.4L1039.5 792.9L1041 793.4L1042.5 793.8L1044 794.2L1045.6 794.5L1047.2 794.9L1048.8 795.2L1050.4 795.5L1052 795.8L1053.7 796L1055.3 796.3L1057 796.5L1058.6 796.6L1060.3 796.8L1062 796.9L1063.7 797L1065.4 797.1L1067.1 797.1L1068.8 797.2L1070.5 797.2L1072.1 797.1L1073.8 797.1L1075.5 797L1077.2 796.9L1078.9 796.8L1080.6 796.6L1082.2 796.5L1083.9 796.3L1085.5 796L1087.2 795.8L1088.8 795.5L1090.4 795.2L1092 794.9L1093.6 794.5L1095.2 794.2L1096.7 793.8L1098.2 793.4L1099.8 792.9L1101.2 792.4L1102.7 792L1104.2 791.5L1105.6 790.9L1107 790.4L1108.4 789.8L1109.7 789.2L1111 788.6L1112.3 788L1113.6 787.3L1114.8 786.7L1164.7 757.8L1165.9 757.1L1167.1 756.4L1168.2 755.7L1169.3 754.9L1170.3 754.2L1171.3 753.4L1172.3 752.6L1173.2 751.7L1174.1 750.9L1175 750.1L1175.8 749.2L1176.6 748.4L1177.3 747.5L1178 746.6L1178.7 745.7L1179.3 744.8L1179.9 743.9L1180.4 742.9L1180.9 742L1181.4 741.1L1181.8 740.1L1182.2 739.1L1182.5 738.2L1182.8 737.2L1183 736.3L1183.2 735.3L1183.4 734.3L1183.5 733.3L1183.5 732.4L1183.6 731.4" fill="none" stroke="#1a1a1a" stroke-width="0.9" stroke-linecap="round" stroke-linejoin="round"/>
<path d="M886.4 604.6L886.5 605.5L886.5 606.5L886.6 607.5L886.8 608.5L887 609.4L887.2 610.4L887.5 611.4L887.8 612.3L888.2 613.3L888.6 614.2L889.1 615.2L889.6 616.1L890.1 617L890.7 618L891.3 618.9L892 619.8L892.7 620.7L893.4 621.5L894.2 622.4L895 623.3L895.9 624.1L896.8 624.9L897.7 625.8L898.7 626.6L899.7 627.3L900.7 628.1L901.8 628.9L902.9 629.6L904.1 630.3L905.3 631L1024.4 699.8L1025.6 700.5L1026.9 701.1L1028.2 701.8L1029.5 702.4L1030.8 703L1032.2 703.5L1033.6 704.1L1035 704.6L1036.5 705.1L1038 705.6L1039.5 706.1L1041 706.5L1042.5 706.9L1044 707.3L1045.6 707.7L1047.2 708L1048.8 708.4L1050.4 708.7L1052 708.9L1053.7 709.2L1055.3 709.4L1057 709.6L1058.6 709.8L1060.3 709.9L1062 710.1L1063.7 710.2L1065.4 710.2L1067.1 710.3L1068.8 710.3L1070.5 710.3L1072.1 710.3L1073.8 710.2L1075.5 710.2L1077.2 710.1L1078.9 709.9L1080.6 709.8L1082.2 709.6L1083.9 709.4L1085.5 709.2L1087.2 708.9L1088.8 708.7L1090.4 708.4L1092 708L1093.6 707.7L1095.2 707.3L1096.7 706.9L1098.2 706.5L1099.8 706.1L1101.2 705.6L1102.7 705.1L1104.2 704.6L1105.6 704.1L1107 703.5L1108.4 703L1109.7 702.4L1111 701.8L1112.3 701.1L1113.6 700.5L1114.8 699.8L1164.7 671L1165.9 670.3L1167.1 669.6L1168.2 668.8L1169.3 668.1L1170.3 667.3L1171.3 666.5L1172.3 665.7L1173.2 664.9L1174.1 664.1L1175 663.2L1175.8 662.4L1176.6 661.5L1177.3 660.6L1178 659.7L1178.7 658.8L1179.3 657.9L1179.9 657L1180.4 656.1L1180.9 655.1L1181.4 654.2L1181.8 653.3L1182.2 652.3L1182.5 651.3L1182.8 650.4L1183 649.4L1183.2 648.4L1183.4 647.5L1183.5 646.5L1183.5 645.5L1183.6 644.5" fill="none" stroke="#1a1a1a" stroke-width="2.9" stroke-linejoin="round"/>
<path d="M886.4 611L886.5 612L886.5 612.9L886.6 613.9L886.8 614.9L887 615.9L887.2 616.8L887.5 617.8L887.8 618.8L888.2 619.7L888.6 620.7L889.1 621.6L889.6 622.5L890.1 623.5L890.7 624.4L891.3 625.3L892 626.2L892.7 627.1L893.4 628L894.2 628.8L895 629.7L895.9 630.5L896.8 631.4L897.7 632.2L898.7 633L899.7 633.8L900.7 634.5L901.8 635.3L902.9 636L904.1 636.8L905.3 637.5L1024.4 706.2L1025.6 706.9L1026.9 707.5L1028.2 708.2L1029.5 708.8L1030.8 709.4L1032.2 709.9L1033.6 710.5L1035 711L1036.5 711.5L1038 712L1039.5 712.5L1041 712.9L1042.5 713.3L1044 713.7L1045.6 714.1L1047.2 714.5L1048.8 714.8L1050.4 715.1L1052 715.4L1053.7 715.6L1055.3 715.8L1057 716L1058.6 716.2L1060.3 716.4L1062 716.5L1063.7 716.6L1065.4 716.7L1067.1 716.7L1068.8 716.7L1070.5 716.7L1072.1 716.7L1073.8 716.7L1075.5 716.6L1077.2 716.5L1078.9 716.4L1080.6 716.2L1082.2 716L1083.9 715.8L1085.5 715.6L1087.2 715.4L1088.8 715.1L1090.4 714.8L1092 714.5L1093.6 714.1L1095.2 713.7L1096.7 713.3L1098.2 712.9L1099.8 712.5L1101.2 712L1102.7 711.5L1104.2 711L1105.6 710.5L1107 709.9L1108.4 709.4L1109.7 708.8L1111 708.2L1112.3 707.5L1113.6 706.9L1114.8 706.2L1164.7 677.4L1165.9 676.7L1167.1 676L1168.2 675.2L1169.3 674.5L1170.3 673.7L1171.3 672.9L1172.3 672.1L1173.2 671.3L1174.1 670.5L1175 669.6L1175.8 668.8L1176.6 667.9L1177.3 667L1178 666.2L1178.7 665.3L1179.3 664.3L1179.9 663.4L1180.4 662.5L1180.9 661.6L1181.4 660.6L1181.8 659.7L1182.2 658.7L1182.5 657.8L1182.8 656.8L1183 655.8L1183.2 654.9L1183.4 653.9L1183.5 652.9L1183.5 651.9L1183.6 650.9" fill="none" stroke="#1a1a1a" stroke-width="2.9" stroke-linejoin="round"/>
<path d="M886.4 617.4L886.5 618.4L886.5 619.4L886.6 620.3L886.8 621.3L887 622.3L887.2 623.3L887.5 624.2L887.8 625.2L888.2 626.1L888.6 627.1L889.1 628L889.6 629L890.1 629.9L890.7 630.8L891.3 631.7L892 632.6L892.7 633.5L893.4 634.4L894.2 635.3L895 636.1L895.9 636.9L896.8 637.8L897.7 638.6L898.7 639.4L899.7 640.2L900.7 641L901.8 641.7L902.9 642.4L904.1 643.2L905.3 643.9L1024.4 712.6L1025.6 713.3L1026.9 714L1028.2 714.6L1029.5 715.2L1030.8 715.8L1032.2 716.4L1033.6 716.9L1035 717.4L1036.5 718L1038 718.4L1039.5 718.9L1041 719.3L1042.5 719.8L1044 720.2L1045.6 720.5L1047.2 720.9L1048.8 721.2L1050.4 721.5L1052 721.8L1053.7 722L1055.3 722.3L1057 722.5L1058.6 722.6L1060.3 722.8L1062 722.9L1063.7 723L1065.4 723.1L1067.1 723.1L1068.8 723.2L1070.5 723.2L1072.1 723.1L1073.8 723.1L1075.5 723L1077.2 722.9L1078.9 722.8L1080.6 722.6L1082.2 722.5L1083.9 722.3L1085.5 722L1087.2 721.8L1088.8 721.5L1090.4 721.2L1092 720.9L1093.6 720.5L1095.2 720.2L1096.7 719.8L1098.2 719.3L1099.8 718.9L1101.2 718.4L1102.7 718L1104.2 717.4L1105.6 716.9L1107 716.4L1108.4 715.8L1109.7 715.2L1111 714.6L1112.3 714L1113.6 713.3L1114.8 712.6L1164.7 683.8L1165.9 683.1L1167.1 682.4L1168.2 681.7L1169.3 680.9L1170.3 680.1L1171.3 679.4L1172.3 678.6L1173.2 677.7L1174.1 676.9L1175 676.1L1175.8 675.2L1176.6 674.3L1177.3 673.5L1178 672.6L1178.7 671.7L1179.3 670.8L1179.9 669.8L1180.4 668.9L1180.9 668L1181.4 667L1181.8 666.1L1182.2 665.1L1182.5 664.2L1182.8 663.2L1183 662.2L1183.2 661.3L1183.4 660.3L1183.5 659.3L1183.5 658.3L1183.6 657.4" fill="none" stroke="#1a1a1a" stroke-width="2.9" stroke-linejoin="round"/>
<path d="M886.4 623.8L886.5 624.8L886.5 625.8L886.6 626.8L886.8 627.7L887 628.7L887.2 629.7L887.5 630.6L887.8 631.6L888.2 632.6L888.6 633.5L889.1 634.4L889.6 635.4L890.1 636.3L890.7 637.2L891.3 638.1L892 639L892.7 639.9L893.4 640.8L894.2 641.7L895 642.5L895.9 643.4L896.8 644.2L897.7 645L898.7 645.8L899.7 646.6L900.7 647.4L901.8 648.1L902.9 648.9L904.1 649.6L905.3 650.3L1024.4 719.1L1025.6 719.7L1026.9 720.4L1028.2 721L1029.5 721.6L1030.8 722.2L1032.2 722.8L1033.6 723.3L1035 723.9L1036.5 724.4L1038 724.9L1039.5 725.3L1041 725.8L1042.5 726.2L1044 726.6L1045.6 726.9L1047.2 727.3L1048.8 727.6L1050.4 727.9L1052 728.2L1053.7 728.4L1055.3 728.7L1057 728.9L1058.6 729L1060.3 729.2L1062 729.3L1063.7 729.4L1065.4 729.5L1067.1 729.6L1068.8 729.6L1070.5 729.6L1072.1 729.6L1073.8 729.5L1075.5 729.4L1077.2 729.3L1078.9 729.2L1080.6 729L1082.2 728.9L1083.9 728.7L1085.5 728.4L1087.2 728.2L1088.8 727.9L1090.4 727.6L1092 727.3L1093.6 726.9L1095.2 726.6L1096.7 726.2L1098.2 725.8L1099.8 725.3L1101.2 724.9L1102.7 724.4L1104.2 723.9L1105.6 723.3L1107 722.8L1108.4 722.2L1109.7 721.6L1111 721L1112.3 720.4L1113.6 719.7L1114.8 719.1L1164.7 690.3L1165.9 689.6L1167.1 688.8L1168.2 688.1L1169.3 687.3L1170.3 686.6L1171.3 685.8L1172.3 685L1173.2 684.2L1174.1 683.3L1175 682.5L1175.8 681.6L1176.6 680.8L1177.3 679.9L1178 679L1178.7 678.1L1179.3 677.2L1179.9 676.3L1180.4 675.3L1180.9 674.4L1181.4 673.5L1181.8 672.5L1182.2 671.6L1182.5 670.6L1182.8 669.6L1183 668.7L1183.2 667.7L1183.4 666.7L1183.5 665.7L1183.5 664.8L1183.6 663.8" fill="none" stroke="#1a1a1a" stroke-width="2.9" stroke-linejoin="round"/>
<path d="M886.4 630.2L886.5 631.2L886.5 632.2L886.6 633.2L886.8 634.2L887 635.1L887.2 636.1L887.5 637.1L887.8 638L888.2 639L888.6 639.9L889.1 640.9L889.6 641.8L890.1 642.7L890.7 643.6L891.3 644.6L892 645.5L892.7 646.3L893.4 647.2L894.2 648.1L895 648.9L895.9 649.8L896.8 650.6L897.7 651.4L898.7 652.2L899.7 653L900.7 653.8L901.8 654.5L902.9 655.3L904.1 656L905.3 656.7L1024.4 725.5L1025.6 726.2L1026.9 726.8L1028.2 727.4L1029.5 728L1030.8 728.6L1032.2 729.2L1033.6 729.8L1035 730.3L1036.5 730.8L1038 731.3L1039.5 731.7L1041 732.2L1042.5 732.6L1044 733L1045.6 733.4L1047.2 733.7L1048.8 734L1050.4 734.3L1052 734.6L1053.7 734.9L1055.3 735.1L1057 735.3L1058.6 735.5L1060.3 735.6L1062 735.7L1063.7 735.8L1065.4 735.9L1067.1 736L1068.8 736L1070.5 736L1072.1 736L1073.8 735.9L1075.5 735.8L1077.2 735.7L1078.9 735.6L1080.6 735.5L1082.2 735.3L1083.9 735.1L1085.5 734.9L1087.2 734.6L1088.8 734.3L1090.4 734L1092 733.7L1093.6 733.4L1095.2 733L1096.7 732.6L1098.2 732.2L1099.8 731.7L1101.2 731.3L1102.7 730.8L1104.2 730.3L1105.6 729.8L1107 729.2L1108.4 728.6L1109.7 728L1111 727.4L1112.3 726.8L1113.6 726.2L1114.8 725.5L1164.7 696.7L1165.9 696L1167.1 695.2L1168.2 694.5L1169.3 693.8L1170.3 693L1171.3 692.2L1172.3 691.4L1173.2 690.6L1174.1 689.7L1175 688.9L1175.8 688.1L1176.6 687.2L1177.3 686.3L1178 685.4L1178.7 684.5L1179.3 683.6L1179.9 682.7L1180.4 681.8L1180.9 680.8L1181.4 679.9L1181.8 678.9L1182.2 678L1182.5 677L1182.8 676.1L1183 675.1L1183.2 674.1L1183.4 673.1L1183.5 672.2L1183.5 671.2L1183.6 670.2" fill="none" stroke="#1a1a1a" stroke-width="2.9" stroke-linejoin="round"/>
<path d="M886.4 636.7L886.5 637.6L886.5 638.6L886.6 639.6L886.8 640.6L887 641.5L887.2 642.5L887.5 643.5L887.8 644.4L888.2 645.4L888.6 646.3L889.1 647.3L889.6 648.2L890.1 649.1L890.7 650.1L891.3 651L892 651.9L892.7 652.8L893.4 653.6L894.2 654.5L895 655.4L895.9 656.2L896.8 657L897.7 657.9L898.7 658.7L899.7 659.4L900.7 660.2L901.8 661L902.9 661.7L904.1 662.4L905.3 663.1L1024.4 731.9L1025.6 732.6L1026.9 733.2L1028.2 733.9L1029.5 734.5L1030.8 735.1L1032.2 735.6L1033.6 736.2L1035 736.7L1036.5 737.2L1038 737.7L1039.5 738.2L1041 738.6L1042.5 739L1044 739.4L1045.6 739.8L1047.2 740.1L1048.8 740.5L1050.4 740.8L1052 741L1053.7 741.3L1055.3 741.5L1057 741.7L1058.6 741.9L1060.3 742L1062 742.2L1063.7 742.3L1065.4 742.3L1067.1 742.4L1068.8 742.4L1070.5 742.4L1072.1 742.4L1073.8 742.3L1075.5 742.3L1077.2 742.2L1078.9 742L1080.6 741.9L1082.2 741.7L1083.9 741.5L1085.5 741.3L1087.2 741L1088.8 740.8L1090.4 740.5L1092 740.1L1093.6 739.8L1095.2 739.4L1096.7 739L1098.2 738.6L1099.8 738.2L1101.2 737.7L1102.7 737.2L1104.2 736.7L1105.6 736.2L1107 735.6L1108.4 735.1L1109.7 734.5L1111 733.9L1112.3 733.2L1113.6 732.6L1114.8 731.9L1164.7 703.1L1165.9 702.4L1167.1 701.7L1168.2 700.9L1169.3 700.2L1170.3 699.4L1171.3 698.6L1172.3 697.8L1173.2 697L1174.1 696.2L1175 695.3L1175.8 694.5L1176.6 693.6L1177.3 692.7L1178 691.8L1178.7 690.9L1179.3 690L1179.9 689.1L1180.4 688.2L1180.9 687.2L1181.4 686.3L1181.8 685.4L1182.2 684.4L1182.5 683.4L1182.8 682.5L1183 681.5L1183.2 680.5L1183.4 679.6L1183.5 678.6L1183.5 677.6L1183.6 676.6" fill="none" stroke="#1a1a1a" stroke-width="2.9" stroke-linejoin="round"/>
<path d="M886.4 643.1L886.5 644.1L886.5 645L886.6 646L886.8 647L887 648L887.2 648.9L887.5 649.9L887.8 650.9L888.2 651.8L888.6 652.8L889.1 653.7L889.6 654.6L890.1 655.6L890.7 656.5L891.3 657.4L892 658.3L892.7 659.2L893.4 660.1L894.2 660.9L895 661.8L895.9 662.6L896.8 663.5L897.7 664.3L898.7 665.1L899.7 665.9L900.7 666.6L901.8 667.4L902.9 668.1L904.1 668.9L905.3 669.6L1024.4 738.3L1025.6 739L1026.9 739.6L1028.2 740.3L1029.5 740.9L1030.8 741.5L1032.2 742L1033.6 742.6L1035 743.1L1036.5 743.6L1038 744.1L1039.5 744.6L1041 745L1042.5 745.4L1044 745.8L1045.6 746.2L1047.2 746.6L1048.8 746.9L1050.4 747.2L1052 747.5L1053.7 747.7L1055.3 747.9L1057 748.1L1058.6 748.3L1060.3 748.5L1062 748.6L1063.7 748.7L1065.4 748.8L1067.1 748.8L1068.8 748.8L1070.5 748.8L1072.1 748.8L1073.8 748.8L1075.5 748.7L1077.2 748.6L1078.9 748.5L1080.6 748.3L1082.2 748.1L1083.9 747.9L1085.5 747.7L1087.2 747.5L1088.8 747.2L1090.4 746.9L1092 746.6L1093.6 746.2L1095.2 745.8L1096.7 745.4L1098.2 745L1099.8 744.6L1101.2 744.1L1102.7 743.6L1104.2 743.1L1105.6 742.6L1107 742L1108.4 741.5L1109.7 740.9L1111 740.3L1112.3 739.6L1113.6 739L1114.8 738.3L1164.7 709.5L1165.9 708.8L1167.1 708.1L1168.2 707.3L1169.3 706.6L1170.3 705.8L1171.3 705L1172.3 704.2L1173.2 703.4L1174.1 702.6L1175 701.7L1175.8 700.9L1176.6 700L1177.3 699.1L1178 698.3L1178.7 697.4L1179.3 696.4L1179.9 695.5L1180.4 694.6L1180.9 693.7L1181.4 692.7L1181.8 691.8L1182.2 690.8L1182.5 689.9L1182.8 688.9L1183 687.9L1183.2 687L1183.4 686L1183.5 685L1183.5 684L1183.6 683" fill="none" stroke="#1a1a1a" stroke-width="2.9" stroke-linejoin="round"/>
<path d="M886.4 649.5L886.5 650.5L886.5 651.5L886.6 652.4L886.8 653.4L887 654.4L887.2 655.4L887.5 656.3L887.8 657.3L888.2 658.2L888.6 659.2L889.1 660.1L889.6 661.1L890.1 662L890.7 662.9L891.3 663.8L892 664.7L892.7 665.6L893.4 666.5L894.2 667.4L895 668.2L895.9 669L896.8 669.9L897.7 670.7L898.7 671.5L899.7 672.3L900.7 673.1L901.8 673.8L902.9 674.5L904.1 675.3L905.3 676L1024.4 744.7L1025.6 745.4L1026.9 746.1L1028.2 746.7L1029.5 747.3L1030.8 747.9L1032.2 748.5L1033.6 749L1035 749.5L1036.5 750.1L1038 750.5L1039.5 751L1041 751.4L1042.5 751.9L1044 752.3L1045.6 752.6L1047.2 753L1048.8 753.3L1050.4 753.6L1052 753.9L1053.7 754.1L1055.3 754.4L1057 754.6L1058.6 754.7L1060.3 754.9L1062 755L1063.7 755.1L1065.4 755.2L1067.1 755.2L1068.8 755.3L1070.5 755.3L1072.1 755.2L1073.8 755.2L1075.5 755.1L1077.2 755L1078.9 754.9L1080.6 754.7L1082.2 754.6L1083.9 754.4L1085.5 754.1L1087.2 753.9L1088.8 753.6L1090.4 753.3L1092 753L1093.6 752.6L1095.2 752.3L1096.7 751.9L1098.2 751.4L1099.8 751L1101.2 750.5L1102.7 750.1L1104.2 749.5L1105.6 749L1107 748.5L1108.4 747.9L1109.7 747.3L1111 746.7L1112.3 746.1L1113.6 745.4L1114.8 744.7L1164.7 715.9L1165.9 715.2L1167.1 714.5L1168.2 713.8L1169.3 713L1170.3 712.2L1171.3 711.5L1172.3 710.7L1173.2 709.8L1174.1 709L1175 708.2L1175.8 707.3L1176.6 706.4L1177.3 705.6L1178 704.7L1178.7 703.8L1179.3 702.9L1179.9 701.9L1180.4 701L1180.9 700.1L1181.4 699.1L1181.8 698.2L1182.2 697.2L1182.5 696.3L1182.8 695.3L1183 694.3L1183.2 693.4L1183.4 692.4L1183.5 691.4L1183.5 690.4L1183.6 689.5" fill="none" stroke="#1a1a1a" stroke-width="2.9" stroke-linejoin="round"/>
<path d="M886.4 655.9L886.5 656.9L886.5 657.9L886.6 658.9L886.8 659.8L887 660.8L887.2 661.8L887.5 662.7L887.8 663.7L888.2 664.7L888.6 665.6L889.1 666.5L889.6 667.5L890.1 668.4L890.7 669.3L891.3 670.2L892 671.1L892.7 672L893.4 672.9L894.2 673.8L895 674.6L895.9 675.5L896.8 676.3L897.7 677.1L898.7 677.9L899.7 678.7L900.7 679.5L901.8 680.2L902.9 681L904.1 681.7L905.3 682.4L1024.4 751.2L1025.6 751.8L1026.9 752.5L1028.2 753.1L1029.5 753.7L1030.8 754.3L1032.2 754.9L1033.6 755.4L1035 756L1036.5 756.5L1038 757L1039.5 757.4L1041 757.9L1042.5 758.3L1044 758.7L1045.6 759L1047.2 759.4L1048.8 759.7L1050.4 760L1052 760.3L1053.7 760.5L1055.3 760.8L1057 761L1058.6 761.1L1060.3 761.3L1062 761.4L1063.7 761.5L1065.4 761.6L1067.1 761.7L1068.8 761.7L1070.5 761.7L1072.1 761.7L1073.8 761.6L1075.5 761.5L1077.2 761.4L1078.9 761.3L1080.6 761.1L1082.2 761L1083.9 760.8L1085.5 760.5L1087.2 760.3L1088.8 760L1090.4 759.7L1092 759.4L1093.6 759L1095.2 758.7L1096.7 758.3L1098.2 757.9L1099.8 757.4L1101.2 757L1102.7 756.5L1104.2 756L1105.6 755.4L1107 754.9L1108.4 754.3L1109.7 753.7L1111 753.1L1112.3 752.5L1113.6 751.8L1114.8 751.2L1164.7 722.4L1165.9 721.7L1167.1 720.9L1168.2 720.2L1169.3 719.4L1170.3 718.7L1171.3 717.9L1172.3 717.1L1173.2 716.3L1174.1 715.4L1175 714.6L1175.8 713.7L1176.6 712.9L1177.3 712L1178 711.1L1178.7 710.2L1179.3 709.3L1179.9 708.4L1180.4 707.4L1180.9 706.5L1181.4 705.6L1181.8 704.6L1182.2 703.7L1182.5 702.7L1182.8 701.7L1183 700.8L1183.2 699.8L1183.4 698.8L1183.5 697.8L1183.5 696.9L1183.6 695.9" fill="none" stroke="#1a1a1a" stroke-width="2.9" stroke-linejoin="round"/>
<path d="M886.4 662.3L886.5 663.3L886.5 664.3L886.6 665.3L886.8 666.3L887 667.2L887.2 668.2L887.5 669.2L887.8 670.1L888.2 671.1L888.6 672L889.1 673L889.6 673.9L890.1 674.8L890.7 675.7L891.3 676.7L892 677.6L892.7 678.4L893.4 679.3L894.2 680.2L895 681L895.9 681.9L896.8 682.7L897.7 683.5L898.7 684.3L899.7 685.1L900.7 685.9L901.8 686.6L902.9 687.4L904.1 688.1L905.3 688.8L1024.4 757.6L1025.6 758.3L1026.9 758.9L1028.2 759.5L1029.5 760.1L1030.8 760.7L1032.2 761.3L1033.6 761.9L1035 762.4L1036.5 762.9L1038 763.4L1039.5 763.8L1041 764.3L1042.5 764.7L1044 765.1L1045.6 765.5L1047.2 765.8L1048.8 766.1L1050.4 766.4L1052 766.7L1053.7 767L1055.3 767.2L1057 767.4L1058.6 767.6L1060.3 767.7L1062 767.8L1063.7 767.9L1065.4 768L1067.1 768.1L1068.8 768.1L1070.5 768.1L1072.1 768.1L1073.8 768L1075.5 767.9L1077.2 767.8L1078.9 767.7L1080.6 767.6L1082.2 767.4L1083.9 767.2L1085.5 767L1087.2 766.7L1088.8 766.4L1090.4 766.1L1092 765.8L1093.6 765.5L1095.2 765.1L1096.7 764.7L1098.2 764.3L1099.8 763.8L1101.2 763.4L1102.7 762.9L1104.2 762.4L1105.6 761.9L1107 761.3L1108.4 760.7L1109.7 760.1L1111 759.5L1112.3 758.9L1113.6 758.3L1114.8 757.6L1164.7 728.8L1165.9 728.1L1167.1 727.3L1168.2 726.6L1169.3 725.9L1170.3 725.1L1171.3 724.3L1172.3 723.5L1173.2 722.7L1174.1 721.8L1175 721L1175.8 720.2L1176.6 719.3L1177.3 718.4L1178 717.5L1178.7 716.6L1179.3 715.7L1179.9 714.8L1180.4 713.9L1180.9 712.9L1181.4 712L1181.8 711L1182.2 710.1L1182.5 709.1L1182.8 708.2L1183 707.2L1183.2 706.2L1183.4 705.2L1183.5 704.3L1183.5 703.3L1183.6 702.3" fill="none" stroke="#1a1a1a" stroke-width="2.9" stroke-linejoin="round"/>
<path d="M886.4 668.8L886.5 669.7L886.5 670.7L886.6 671.7L886.8 672.7L887 673.6L887.2 674.6L887.5 675.6L887.8 676.5L888.2 677.5L888.6 678.4L889.1 679.4L889.6 680.3L890.1 681.2L890.7 682.2L891.3 683.1L892 684L892.7 684.9L893.4 685.7L894.2 686.6L895 687.5L895.9 688.3L896.8 689.1L897.7 690L898.7 690.8L899.7 691.5L900.7 692.3L901.8 693.1L902.9 693.8L904.1 694.5L905.3 695.2L1024.4 764L1025.6 764.7L1026.9 765.3L1028.2 766L1029.5 766.6L1030.8 767.2L1032.2 767.7L1033.6 768.3L1035 768.8L1036.5 769.3L1038 769.8L1039.5 770.3L1041 770.7L1042.5 771.1L1044 771.5L1045.6 771.9L1047.2 772.2L1048.8 772.6L1050.4 772.9L1052 773.1L1053.7 773.4L1055.3 773.6L1057 773.8L1058.6 774L1060.3 774.1L1062 774.3L1063.7 774.4L1065.4 774.4L1067.1 774.5L1068.8 774.5L1070.5 774.5L1072.1 774.5L1073.8 774.4L1075.5 774.4L1077.2 774.3L1078.9 774.1L1080.6 774L1082.2 773.8L1083.9 773.6L1085.5 773.4L1087.2 773.1L1088.8 772.9L1090.4 772.6L1092 772.2L1093.6 771.9L1095.2 771.5L1096.7 771.1L1098.2 770.7L1099.8 770.3L1101.2 769.8L1102.7 769.3L1104.2 768.8L1105.6 768.3L1107 767.7L1108.4 767.2L1109.7 766.6L1111 766L1112.3 765.3L1113.6 764.7L1114.8 764L1164.7 735.2L1165.9 734.5L1167.1 733.8L1168.2 733L1169.3 732.3L1170.3 731.5L1171.3 730.7L1172.3 729.9L1173.2 729.1L1174.1 728.3L1175 727.4L1175.8 726.6L1176.6 725.7L1177.3 724.8L1178 723.9L1178.7 723L1179.3 722.1L1179.9 721.2L1180.4 720.3L1180.9 719.3L1181.4 718.4L1181.8 717.5L1182.2 716.5L1182.5 715.5L1182.8 714.6L1183 713.6L1183.2 712.6L1183.4 711.7L1183.5 710.7L1183.5 709.7L1183.6 708.7" fill="none" stroke="#1a1a1a" stroke-width="2.9" stroke-linejoin="round"/>
<path d="M886.4 675.2L886.5 676.2L886.5 677.1L886.6 678.1L886.8 679.1L887 680.1L887.2 681L887.5 682L887.8 683L888.2 683.9L888.6 684.9L889.1 685.8L889.6 686.7L890.1 687.7L890.7 688.6L891.3 689.5L892 690.4L892.7 691.3L893.4 692.2L894.2 693L895 693.9L895.9 694.7L896.8 695.6L897.7 696.4L898.7 697.2L899.7 698L900.7 698.7L901.8 699.5L902.9 700.2L904.1 701L905.3 701.7L1024.4 770.4L1025.6 771.1L1026.9 771.7L1028.2 772.4L1029.5 773L1030.8 773.6L1032.2 774.1L1033.6 774.7L1035 775.2L1036.5 775.7L1038 776.2L1039.5 776.7L1041 777.1L1042.5 777.5L1044 777.9L1045.6 778.3L1047.2 778.7L1048.8 779L1050.4 779.3L1052 779.6L1053.7 779.8L1055.3 780L1057 780.2L1058.6 780.4L1060.3 780.6L1062 780.7L1063.7 780.8L1065.4 780.9L1067.1 780.9L1068.8 780.9L1070.5 780.9L1072.1 780.9L1073.8 780.9L1075.5 780.8L1077.2 780.7L1078.9 780.6L1080.6 780.4L1082.2 780.2L1083.9 780L1085.5 779.8L1087.2 779.6L1088.8 779.3L1090.4 779L1092 778.7L1093.6 778.3L1095.2 777.9L1096.7 777.5L1098.2 777.1L1099.8 776.7L1101.2 776.2L1102.7 775.7L1104.2 775.2L1105.6 774.7L1107 774.1L1108.4 773.6L1109.7 773L1111 772.4L1112.3 771.7L1113.6 771.1L1114.8 770.4L1164.7 741.6L1165.9 740.9L1167.1 740.2L1168.2 739.4L1169.3 738.7L1170.3 737.9L1171.3 737.1L1172.3 736.3L1173.2 735.5L1174.1 734.7L1175 733.8L1175.8 733L1176.6 732.1L1177.3 731.2L1178 730.4L1178.7 729.5L1179.3 728.5L1179.9 727.6L1180.4 726.7L1180.9 725.8L1181.4 724.8L1181.8 723.9L1182.2 722.9L1182.5 722L1182.8 721L1183 720L1183.2 719.1L1183.4 718.1L1183.5 717.1L1183.5 716.1L1183.6 715.1" fill="none" stroke="#1a1a1a" stroke-width="2.9" stroke-linejoin="round"/>
<path d="M886.4 681.6L886.5 682.6L886.5 683.6L886.6 684.5L886.8 685.5L887 686.5L887.2 687.5L887.5 688.4L887.8 689.4L888.2 690.3L888.6 691.3L889.1 692.2L889.6 693.2L890.1 694.1L890.7 695L891.3 695.9L892 696.8L892.7 697.7L893.4 698.6L894.2 699.5L895 700.3L895.9 701.1L896.8 702L897.7 702.8L898.7 703.6L899.7 704.4L900.7 705.2L901.8 705.9L902.9 706.6L904.1 707.4L905.3 708.1L1024.4 776.8L1025.6 777.5L1026.9 778.2L1028.2 778.8L1029.5 779.4L1030.8 780L1032.2 780.6L1033.6 781.1L1035 781.6L1036.5 782.2L1038 782.6L1039.5 783.1L1041 783.5L1042.5 784L1044 784.4L1045.6 784.7L1047.2 785.1L1048.8 785.4L1050.4 785.7L1052 786L1053.7 786.2L1055.3 786.5L1057 786.7L1058.6 786.8L1060.3 787L1062 787.1L1063.7 787.2L1065.4 787.3L1067.1 787.3L1068.8 787.4L1070.5 787.4L1072.1 787.3L1073.8 787.3L1075.5 787.2L1077.2 787.1L1078.9 787L1080.6 786.8L1082.2 786.7L1083.9 786.5L1085.5 786.2L1087.2 786L1088.8 785.7L1090.4 785.4L1092 785.1L1093.6 784.7L1095.2 784.4L1096.7 784L1098.2 783.5L1099.8 783.1L1101.2 782.6L1102.7 782.2L1104.2 781.6L1105.6 781.1L1107 780.6L1108.4 780L1109.7 779.4L1111 778.8L1112.3 778.2L1113.6 777.5L1114.8 776.8L1164.7 748L1165.9 747.3L1167.1 746.6L1168.2 745.9L1169.3 745.1L1170.3 744.3L1171.3 743.6L1172.3 742.8L1173.2 741.9L1174.1 741.1L1175 740.3L1175.8 739.4L1176.6 738.5L1177.3 737.7L1178 736.8L1178.7 735.9L1179.3 735L1179.9 734L1180.4 733.1L1180.9 732.2L1181.4 731.2L1181.8 730.3L1182.2 729.3L1182.5 728.4L1182.8 727.4L1183 726.4L1183.2 725.5L1183.4 724.5L1183.5 723.5L1183.5 722.5L1183.6 721.6" fill="none" stroke="#1a1a1a" stroke-width="2.9" stroke-linejoin="round"/>
<path d="M905.6 623.5V722.5" fill="none" stroke="#1a1a1a" stroke-width="0.9" stroke-linecap="round" stroke-linejoin="round"/>
<path d="M1023.5 691.5V790.5" fill="none" stroke="#1a1a1a" stroke-width="0.9" stroke-linecap="round" stroke-linejoin="round"/>
<path d="M1115.7 691.5V790.5" fill="none" stroke="#1a1a1a" stroke-width="0.9" stroke-linecap="round" stroke-linejoin="round"/>
<path d="M1164.4 663.4V762.4" fill="none" stroke="#1a1a1a" stroke-width="0.9" stroke-linecap="round" stroke-linejoin="round"/>
<path d="M1164.4 663.4L1165.6 662.7L1166.8 662L1167.9 661.3L1169 660.5L1170.1 659.7L1171.1 658.9L1172.1 658.1L1173 657.3L1173.9 656.5L1174.8 655.7L1175.6 654.8L1176.4 653.9L1177.2 653L1177.9 652.2L1178.6 651.3L1179.2 650.3L1179.8 649.4L1180.3 648.5L1180.8 647.6L1181.3 646.6L1181.7 645.7L1182.1 644.7L1182.4 643.7L1182.7 642.8L1183 641.8L1183.2 640.8L1183.3 639.8L1183.5 638.9L1183.5 637.9L1183.6 636.9L1183.5 635.9L1183.5 634.9L1183.4 634L1183.2 633L1183 632L1182.8 631L1182.5 630.1L1182.2 629.1L1181.8 628.1L1181.4 627.2L1181 626.2L1180.5 625.3L1179.9 624.4L1179.3 623.4L1178.7 622.5L1178.1 621.6L1177.3 620.7L1176.6 619.9L1175.8 619L1175 618.1L1174.1 617.3L1173.2 616.4L1172.3 615.6L1171.3 614.8L1170.3 614L1169.3 613.2L1168.2 612.5L1167.1 611.7L1165.9 611L1164.7 610.3L1045.6 541.5L1044.4 540.9L1043.1 540.2L1041.8 539.6L1040.5 539L1039.1 538.4L1037.7 537.8L1036.3 537.3L1034.9 536.7L1033.4 536.2L1032 535.7L1030.5 535.3L1029 534.8L1027.4 534.4L1025.9 534L1024.3 533.6L1022.7 533.3L1021.1 533L1019.5 532.7L1017.8 532.4L1016.2 532.1L1014.5 531.9L1012.9 531.7L1011.2 531.5L1009.5 531.4L1007.8 531.3L1006.1 531.2L1004.4 531.1L1002.7 531L1001 531L999.3 531L997.6 531.1L995.9 531.1L994.2 531.2L992.5 531.3L990.9 531.4L989.2 531.6L987.5 531.8L985.8 532L984.2 532.2L982.5 532.5L980.9 532.7L979.3 533L977.7 533.4L976.1 533.7L974.5 534.1L973 534.5L971.5 534.9L969.9 535.4L968.4 535.9L967 536.3L965.5 536.9L964.1 537.4L962.7 537.9L961.3 538.5L960 539.1L958.7 539.7L957.4 540.4L956.1 541L954.9 541.7L905 570.5L903.8 571.2L902.6 572L901.5 572.7L900.5 573.5L899.4 574.3L898.4 575.1L897.5 575.9L896.5 576.7L895.6 577.5L894.8 578.4L894 579.2L893.2 580.1L892.5 581L891.8 581.9L891.1 582.8L890.5 583.7L889.9 584.6L889.4 585.6L888.9 586.5L888.5 587.5L888.1 588.4L887.7 589.4L887.4 590.3L887.1 591.3L886.9 592.3L886.7 593.3L886.6 594.2L886.5 595.2L886.4 596.2L886.4 597.2L886.5 598.2L886.6 599.2L886.7 600.1L886.9 601.1L887.1 602.1L887.3 603.1L887.6 604L888 605L888.4 605.9L888.8 606.9L889.3 607.8L889.8 608.8L890.4 609.7L891 610.6L891.6 611.5L892.3 612.4L893 613.3L893.8 614.2L894.6 615.1L895.4 615.9L896.3 616.7L897.2 617.6L898.2 618.4L899.2 619.2L900.2 620L901.3 620.7L902.4 621.5L903.5 622.2L904.7 622.9L1023.8 691.7L1025 692.4L1026.2 693.1L1027.5 693.7L1028.8 694.3L1030.2 694.9L1031.6 695.5L1033 696.1L1034.4 696.6L1035.8 697.1L1037.3 697.6L1038.8 698.1L1040.3 698.6L1041.8 699L1043.4 699.4L1044.9 699.8L1046.5 700.1L1048.1 700.5L1049.7 700.8L1051.4 701.1L1053 701.3L1054.6 701.6L1056.3 701.8L1058 702L1059.6 702.1L1061.3 702.3L1063 702.4L1064.7 702.5L1066.4 702.5L1068.1 702.6L1069.8 702.6L1071.5 702.6L1073.2 702.5L1074.9 702.4L1076.6 702.4L1078.3 702.2L1080 702.1L1081.7 701.9L1083.3 701.7L1085 701.5L1086.6 701.3L1088.3 701L1089.9 700.7L1091.5 700.4L1093.1 700L1094.7 699.7L1096.2 699.3L1097.8 698.9L1099.3 698.4L1100.8 698L1102.3 697.5L1103.8 697L1105.2 696.5L1106.6 695.9L1108 695.4L1109.4 694.8L1110.7 694.2L1112 693.5L1113.3 692.9L1114.5 692.2L1164.4 663.4Z" fill="#fff" stroke="#1a1a1a" stroke-width="3.6" stroke-linejoin="round"/>
<path d="M1164.4 663.4L1165.6 662.7L1166.8 662L1167.9 661.3L1169 660.5L1170.1 659.7L1171.1 658.9L1172.1 658.1L1173 657.3L1173.9 656.5L1174.8 655.7L1175.6 654.8L1176.4 653.9L1177.2 653L1177.9 652.2L1178.6 651.3L1179.2 650.3L1179.8 649.4L1180.3 648.5L1180.8 647.6L1181.3 646.6L1181.7 645.7L1182.1 644.7L1182.4 643.7L1182.7 642.8L1183 641.8L1183.2 640.8L1183.3 639.8L1183.5 638.9L1183.5 637.9L1183.6 636.9L1183.5 635.9L1183.5 634.9L1183.4 634L1183.2 633L1183 632L1182.8 631L1182.5 630.1L1182.2 629.1L1181.8 628.1L1181.4 627.2L1181 626.2L1180.5 625.3L1179.9 624.4L1179.3 623.4L1178.7 622.5L1178.1 621.6L1177.3 620.7L1176.6 619.9L1175.8 619L1175 618.1L1174.1 617.3L1173.2 616.4L1172.3 615.6L1171.3 614.8L1170.3 614L1169.3 613.2L1168.2 612.5L1167.1 611.7L1165.9 611L1164.7 610.3L1045.6 541.5L1044.4 540.9L1043.1 540.2L1041.8 539.6L1040.5 539L1039.1 538.4L1037.7 537.8L1036.3 537.3L1034.9 536.7L1033.4 536.2L1032 535.7L1030.5 535.3L1029 534.8L1027.4 534.4L1025.9 534L1024.3 533.6L1022.7 533.3L1021.1 533L1019.5 532.7L1017.8 532.4L1016.2 532.1L1014.5 531.9L1012.9 531.7L1011.2 531.5L1009.5 531.4L1007.8 531.3L1006.1 531.2L1004.4 531.1L1002.7 531L1001 531L999.3 531L997.6 531.1L995.9 531.1L994.2 531.2L992.5 531.3L990.9 531.4L989.2 531.6L987.5 531.8L985.8 532L984.2 532.2L982.5 532.5L980.9 532.7L979.3 533L977.7 533.4L976.1 533.7L974.5 534.1L973 534.5L971.5 534.9L969.9 535.4L968.4 535.9L967 536.3L965.5 536.9L964.1 537.4L962.7 537.9L961.3 538.5L960 539.1L958.7 539.7L957.4 540.4L956.1 541L954.9 541.7L905 570.5L903.8 571.2L902.6 572L901.5 572.7L900.5 573.5L899.4 574.3L898.4 575.1L897.5 575.9L896.5 576.7L895.6 577.5L894.8 578.4L894 579.2L893.2 580.1L892.5 581L891.8 581.9L891.1 582.8L890.5 583.7L889.9 584.6L889.4 585.6L888.9 586.5L888.5 587.5L888.1 588.4L887.7 589.4L887.4 590.3L887.1 591.3L886.9 592.3L886.7 593.3L886.6 594.2L886.5 595.2L886.4 596.2L886.4 597.2L886.5 598.2L886.6 599.2L886.7 600.1L886.9 601.1L887.1 602.1L887.3 603.1L887.6 604L888 605L888.4 605.9L888.8 606.9L889.3 607.8L889.8 608.8L890.4 609.7L891 610.6L891.6 611.5L892.3 612.4L893 613.3L893.8 614.2L894.6 615.1L895.4 615.9L896.3 616.7L897.2 617.6L898.2 618.4L899.2 619.2L900.2 620L901.3 620.7L902.4 621.5L903.5 622.2L904.7 622.9L1023.8 691.7L1025 692.4L1026.2 693.1L1027.5 693.7L1028.8 694.3L1030.2 694.9L1031.6 695.5L1033 696.1L1034.4 696.6L1035.8 697.1L1037.3 697.6L1038.8 698.1L1040.3 698.6L1041.8 699L1043.4 699.4L1044.9 699.8L1046.5 700.1L1048.1 700.5L1049.7 700.8L1051.4 701.1L1053 701.3L1054.6 701.6L1056.3 701.8L1058 702L1059.6 702.1L1061.3 702.3L1063 702.4L1064.7 702.5L1066.4 702.5L1068.1 702.6L1069.8 702.6L1071.5 702.6L1073.2 702.5L1074.9 702.4L1076.6 702.4L1078.3 702.2L1080 702.1L1081.7 701.9L1083.3 701.7L1085 701.5L1086.6 701.3L1088.3 701L1089.9 700.7L1091.5 700.4L1093.1 700L1094.7 699.7L1096.2 699.3L1097.8 698.9L1099.3 698.4L1100.8 698L1102.3 697.5L1103.8 697L1105.2 696.5L1106.6 695.9L1108 695.4L1109.4 694.8L1110.7 694.2L1112 693.5L1113.3 692.9L1114.5 692.2L1164.4 663.4Z" fill="none" stroke="#b5b5b5" stroke-width="0.7" stroke-linejoin="round"/>
<path d="M1160.9 661.4L1162 660.7L1163.1 660.1L1164.1 659.4L1165.1 658.7L1166.1 658L1167 657.3L1168 656.5L1168.8 655.8L1169.7 655L1170.5 654.2L1171.2 653.4L1172 652.6L1172.7 651.8L1173.3 651L1174 650.1L1174.5 649.3L1175.1 648.5L1175.6 647.6L1176.1 646.7L1176.5 645.9L1176.9 645L1177.2 644.1L1177.5 643.2L1177.8 642.3L1178 641.4L1178.2 640.5L1178.4 639.6L1178.5 638.7L1178.6 637.8L1178.6 636.9L1178.6 636L1178.5 635.1L1178.4 634.2L1178.3 633.3L1178.1 632.4L1177.9 631.5L1177.6 630.6L1177.3 629.7L1177 628.8L1176.6 627.9L1176.2 627L1175.7 626.2L1175.2 625.3L1174.7 624.5L1174.1 623.6L1173.5 622.8L1172.8 622L1172.2 621.1L1171.4 620.3L1170.7 619.5L1169.9 618.8L1169 618L1168.2 617.2L1167.3 616.5L1166.3 615.8L1165.4 615L1164.4 614.3L1163.4 613.7L1162.3 613L1161.2 612.3L1042.2 543.6L1041 543L1039.8 542.4L1038.6 541.8L1037.4 541.2L1036.2 540.7L1034.9 540.2L1033.6 539.7L1032.3 539.2L1030.9 538.7L1029.6 538.2L1028.2 537.8L1026.8 537.4L1025.3 537L1023.9 536.7L1022.5 536.3L1021 536L1019.5 535.7L1018 535.4L1016.5 535.2L1015 534.9L1013.4 534.7L1011.9 534.5L1010.4 534.4L1008.8 534.2L1007.3 534.1L1005.7 534L1004.1 534L1002.6 533.9L1001 533.9L999.4 533.9L997.8 533.9L996.3 534L994.7 534.1L993.1 534.2L991.6 534.3L990 534.4L988.5 534.6L987 534.8L985.4 535L983.9 535.2L982.4 535.5L980.9 535.8L979.4 536.1L978 536.4L976.5 536.8L975.1 537.1L973.7 537.5L972.3 537.9L970.9 538.4L969.5 538.8L968.2 539.3L966.9 539.8L965.6 540.3L964.3 540.8L963.1 541.4L961.8 542L960.6 542.5L959.5 543.2L958.3 543.8L908.5 572.5L907.4 573.2L906.4 573.9L905.4 574.6L904.4 575.3L903.4 576L902.5 576.7L901.6 577.5L900.8 578.2L899.9 579L899.1 579.8L898.4 580.6L897.7 581.4L897 582.2L896.4 583L895.8 583.9L895.2 584.7L894.7 585.6L894.2 586.4L893.7 587.3L893.3 588.2L892.9 589.1L892.6 589.9L892.3 590.8L892.1 591.7L891.9 592.6L891.7 593.5L891.6 594.4L891.5 595.3L891.4 596.3L891.4 597.2L891.5 598.1L891.5 599L891.7 599.9L891.8 600.8L892 601.7L892.3 602.6L892.5 603.5L892.9 604.4L893.2 605.2L893.6 606.1L894.1 607L894.5 607.9L895.1 608.7L895.6 609.6L896.2 610.4L896.8 611.2L897.5 612L898.2 612.9L898.9 613.7L899.7 614.4L900.5 615.2L901.4 616L902.3 616.7L903.2 617.5L904.1 618.2L905.1 618.9L906.1 619.6L907.2 620.3L908.2 620.9L1027.3 689.7L1028.4 690.3L1029.6 690.9L1030.7 691.5L1032 692.1L1033.2 692.6L1034.5 693.2L1035.8 693.7L1037.1 694.2L1038.4 694.7L1039.8 695.1L1041.1 695.6L1042.5 696L1043.9 696.4L1045.4 696.8L1046.8 697.1L1048.3 697.4L1049.8 697.8L1051.2 698L1052.7 698.3L1054.3 698.5L1055.8 698.8L1057.3 699L1058.9 699.1L1060.4 699.3L1062 699.4L1063.5 699.5L1065.1 699.6L1066.7 699.7L1068.2 699.7L1069.8 699.7L1071.4 699.7L1072.9 699.6L1074.5 699.6L1076.1 699.5L1077.6 699.4L1079.2 699.3L1080.7 699.1L1082.3 698.9L1083.8 698.7L1085.3 698.5L1086.8 698.2L1088.3 698L1089.8 697.7L1091.3 697.4L1092.8 697L1094.2 696.7L1095.6 696.3L1097 695.9L1098.4 695.5L1099.8 695L1101.1 694.6L1102.5 694.1L1103.8 693.6L1105.1 693L1106.3 692.5L1107.6 691.9L1108.8 691.4L1109.9 690.8L1111.1 690.1L1160.9 661.4Z" fill="none" stroke="#1a1a1a" stroke-width="1.6" stroke-linecap="round" stroke-linejoin="round"/>
<path d="M1157.7 661L1158.7 660.4L1159.7 659.8L1160.7 659.2L1161.6 658.5L1162.5 657.9L1163.4 657.2L1164.2 656.5L1165 655.8L1165.8 655.1L1166.6 654.4L1167.3 653.7L1167.9 652.9L1168.6 652.2L1169.2 651.4L1169.8 650.6L1170.3 649.9L1170.8 649.1L1171.3 648.3L1171.7 647.5L1172.1 646.7L1172.5 645.9L1172.8 645L1173.1 644.2L1173.3 643.4L1173.6 642.6L1173.7 641.7L1173.9 640.9L1174 640L1174 639.2L1174 638.4L1174 637.5L1174 636.7L1173.9 635.9L1173.8 635L1173.6 634.2L1173.4 633.4L1173.1 632.5L1172.9 631.7L1172.6 630.9L1172.2 630.1L1171.8 629.3L1171.4 628.5L1170.9 627.7L1170.4 626.9L1169.9 626.1L1169.3 625.3L1168.7 624.6L1168.1 623.8L1167.4 623.1L1166.7 622.3L1166 621.6L1165.2 620.9L1164.4 620.2L1163.6 619.5L1162.7 618.8L1161.8 618.2L1160.9 617.5L1159.9 616.9L1159 616.3L1157.9 615.7L1039 547L1037.9 546.4L1036.8 545.9L1035.7 545.3L1034.6 544.8L1033.4 544.3L1032.3 543.8L1031.1 543.3L1029.8 542.9L1028.6 542.4L1027.3 542L1026 541.6L1024.7 541.3L1023.4 540.9L1022.1 540.6L1020.7 540.2L1019.4 539.9L1018 539.7L1016.6 539.4L1015.2 539.2L1013.8 539L1012.4 538.8L1011 538.6L1009.6 538.5L1008.1 538.3L1006.7 538.2L1005.2 538.1L1003.8 538.1L1002.3 538L1000.9 538L999.4 538L998 538.1L996.5 538.1L995.1 538.2L993.6 538.3L992.2 538.4L990.7 538.5L989.3 538.7L987.9 538.8L986.5 539L985.1 539.3L983.7 539.5L982.3 539.8L980.9 540L979.6 540.3L978.2 540.7L976.9 541L975.6 541.4L974.3 541.8L973 542.2L971.8 542.6L970.5 543L969.3 543.5L968.1 544L966.9 544.5L965.8 545L964.7 545.5L963.6 546L962.5 546.6L961.4 547.2L911.7 575.9L910.7 576.5L909.7 577.1L908.8 577.8L907.9 578.4L907 579.1L906.1 579.8L905.3 580.5L904.5 581.2L903.8 581.9L903 582.6L902.3 583.4L901.7 584.1L901.1 584.9L900.5 585.6L899.9 586.4L899.4 587.2L898.9 588L898.5 588.8L898 589.6L897.7 590.4L897.3 591.2L897 592L896.8 592.9L896.5 593.7L896.3 594.5L896.2 595.3L896.1 596.2L896 597L896 597.9L896 598.7L896 599.5L896.1 600.4L896.2 601.2L896.3 602.1L896.5 602.9L896.7 603.7L897 604.5L897.3 605.4L897.6 606.2L898 607L898.4 607.8L898.9 608.6L899.4 609.4L899.9 610.2L900.4 610.9L901 611.7L901.6 612.5L902.3 613.2L903 614L903.7 614.7L904.5 615.4L905.2 616.1L906.1 616.8L906.9 617.5L907.8 618.2L908.7 618.8L909.6 619.4L910.6 620.1L911.6 620.7L1030.6 689.4L1031.6 689.9L1032.7 690.5L1033.8 691.1" fill="none" stroke="#1a1a1a" stroke-width="1.6" stroke-linecap="round" stroke-linejoin="round"/>
<path d="M1168.2 649.5L1168.5 648.7L1168.8 648L1169.1 647.2L1169.3 646.5L1169.5 645.7L1169.7 644.9L1169.8 644.2L1169.9 643.4L1169.9 642.6L1170 641.8L1170 641.1L1169.9 640.3L1169.8 639.5L1169.7 638.7L1169.5 638L1169.4 637.2L1169.1 636.4L1168.9 635.7L1168.6 634.9L1168.3 634.2L1167.9 633.4L1167.5 632.7L1167.1 631.9L1166.6 631.2L1166.1 630.5L1165.6 629.8L1165 629.1L1164.5 628.4L1163.8 627.7L1163.2 627L1162.5 626.3L1161.8 625.7L1161.1 625L1160.3 624.4L1159.5 623.8L1158.7 623.2L1157.8 622.6L1156.9 622L1156 621.4L1155.1 620.8L1036.2 552.2L1035.3 551.7L1034.3 551.2L1033.2 550.7L1032.2 550.2L1031.1 549.7L1030 549.3L1028.9 548.8L1027.8 548.4L1026.6 548L1025.5 547.6L1024.3 547.3L1023.1 546.9L1021.9 546.6L1020.6 546.3L1019.4 546L1018.2 545.7L1016.9 545.4L1015.6 545.2L1014.3 545L1013 544.8L1011.7 544.6L1010.4 544.4L1009.1 544.3L1007.8 544.2L1006.4 544.1L1005.1 544L1003.7 543.9L1002.4 543.9L1001.1 543.9L999.7 543.9L998.4 543.9L997 543.9L995.7 544L994.4 544.1L993 544.2L991.7 544.3L990.4 544.4L989.1 544.6L987.8 544.8L986.5 545L985.2 545.2L983.9 545.4L982.6 545.7L981.4 546L980.1 546.3L978.9 546.6L977.7 546.9L976.5 547.3L975.3 547.6L974.2 548L973 548.4L971.9 548.8L970.8 549.3L969.7 549.7L968.6 550.2L967.6 550.7L966.5 551.2L965.5 551.7L964.6 552.2L914.9 580.9L914 581.4L913.1 582L912.2 582.6L911.3 583.2L910.5 583.8L909.7 584.4L908.9 585.1L908.2 585.7L907.5 586.4L906.8 587.1L906.2 587.7L905.5 588.4L905 589.1L904.4 589.8L903.9 590.5L903.4 591.3L902.9 592L902.5 592.7L902.1 593.5L901.7 594.2L901.4 595L901.1 595.7L900.9 596.5L900.6 597.2L900.5 598L900.3 598.8L900.2 599.6L900.1 600.3L900 601.1L900 601.9L900.1 602.7L900.1 603.4L900.2 604.2L900.3 605L900.5 605.7L900.7 606.5L900.9 607.3L901.2 608L901.5 608.8L901.8 609.5" fill="none" stroke="#1a1a1a" stroke-width="1.6" stroke-linecap="round" stroke-linejoin="round"/>
<path d="M924 562L921 520H1072V559L1058 552L990 546L945 556Z" fill="#fff" stroke="none"/>
<path d="M912.5 588.7V599.9A26.2 13.7 0 0 0 964.9 599.9V588.7A26.2 13.7 0 0 0 912.5 588.7Z" fill="#fff" stroke="#1a1a1a" stroke-width="1.7" stroke-linecap="round" stroke-linejoin="round"/>
<path d="M912.5 595A26.2 13.7 0 0 0 964.9 595" fill="none" stroke="#1a1a1a" stroke-width="1.7" stroke-linecap="round" stroke-linejoin="round"/>
<path d="M912.5 588.7A26.2 13.7 0 0 0 964.9 588.7" fill="none" stroke="#1a1a1a" stroke-width="1.7" stroke-linecap="round" stroke-linejoin="round"/>
<path d="M918.7 588C918.8 586.8 919 583 919.2 581C919.4 579 919.6 578.2 920 576.2C920.4 574.2 920.9 571.3 921.6 569C922.3 566.7 923.1 564.7 924.3 562.5C925.4 560.3 926.9 558.1 928.5 556C930.1 553.9 931.9 551.8 933.7 550C935.5 548.2 937.4 546.6 939.5 545C941.6 543.4 944 541.9 946.2 540.6C948.5 539.3 950.7 538.3 953 537.4C955.3 536.5 957.6 535.6 959.9 535C962.2 534.4 964.5 533.9 967 533.5C969.5 533.1 972.1 532.8 974.9 532.5C977.7 532.2 981 532.1 984 532C987 531.9 991.5 531.9 993 531.9L1056 530.3L1056 571L993.6 573.1C991.8 573.2 986.5 573.3 983 573.5C979.5 573.7 974.9 573.9 972.4 574.3C969.9 574.6 969.2 575.1 968 575.6C966.8 576.1 965.9 576.6 964.9 577.4C963.9 578.2 962.8 579.2 962 580.2C961.2 581.2 960.4 582.6 959.9 583.7C959.4 584.8 959.2 586 959 587C958.8 588 958.8 589.4 958.7 589.9A20 9.4 0 0 1 918.7 588Z" fill="#fff" stroke="#1a1a1a" stroke-width="1.7" stroke-linecap="round" stroke-linejoin="round"/>
<path d="M958.7 589.9A20 9.4 0 0 1 918.7 588" fill="none" stroke="#1a1a1a" stroke-width="2.4"/>
<path d="M976.8 534.4V573.7" fill="none" stroke="#1a1a1a" stroke-width="0.9" stroke-linecap="round" stroke-linejoin="round"/>
<rect x="993" y="529.8" width="10" height="46.4" rx="5" fill="#fff" stroke="#1a1a1a" stroke-width="1.7" stroke-linecap="round" stroke-linejoin="round"/>
<path d="M998 530.6V575.4" fill="none" stroke="#1a1a1a" stroke-width="0.9" stroke-linecap="round" stroke-linejoin="round"/>
<path d="M1060 530.6H1065.5C1068 536 1069 545 1069 551C1069 558 1068 566 1065.5 571.2H1060Z" fill="#fff" stroke="#1a1a1a" stroke-width="1.7" stroke-linecap="round" stroke-linejoin="round"/>
<path d="M1063.8 530.8C1066.3 538 1066.8 545 1066.8 551C1066.8 558 1066 565 1063.8 571" fill="none" stroke="#1a1a1a" stroke-width="0.9" stroke-linecap="round" stroke-linejoin="round"/>
<rect x="1052.6" y="528.6" width="9.8" height="46.6" rx="4.9" fill="#fff" stroke="#1a1a1a" stroke-width="1.7" stroke-linecap="round" stroke-linejoin="round"/>
<path d="M1056.4 529.6V574.2" fill="none" stroke="#1a1a1a" stroke-width="0.9" stroke-linecap="round" stroke-linejoin="round"/>
<path d="M1103.1 638.8V650A26.2 13.7 0 0 0 1155.5 650V638.8A26.2 13.7 0 0 0 1103.1 638.8Z" fill="#fff" stroke="#1a1a1a" stroke-width="1.7" stroke-linecap="round" stroke-linejoin="round"/>
<path d="M1103.1 645.1A26.2 13.7 0 0 0 1155.5 645.1" fill="none" stroke="#1a1a1a" stroke-width="1.7" stroke-linecap="round" stroke-linejoin="round"/>
<path d="M1103.1 638.8A26.2 13.7 0 0 0 1155.5 638.8" fill="none" stroke="#1a1a1a" stroke-width="1.7" stroke-linecap="round" stroke-linejoin="round"/>
<path d="M1100 619.3C1100.8 617.8 1102.6 612.7 1104.9 610C1107.2 607.3 1110.4 604.7 1113.7 603.1C1117 601.5 1121.2 600.5 1124.9 600.6C1128.7 600.7 1132.9 601.7 1136.2 603.7C1139.5 605.7 1142.7 609.2 1144.9 612.5C1147.1 615.8 1148.5 620 1149.3 623.7C1150.1 627.5 1150.4 631.7 1149.9 635C1149.4 638.3 1147.9 641.4 1146.2 643.7C1144.5 646 1142.6 647.3 1139.9 648.7C1137.2 650.1 1131.7 651.5 1130 652L1108 650Z" fill="#fff" stroke="#1a1a1a" stroke-width="1.7" stroke-linecap="round" stroke-linejoin="round"/>
<path d="M1106.2 612.5C1107.9 612.1 1112.7 609.8 1116.2 610C1119.7 610.2 1124.3 611.6 1127.4 613.7C1130.5 615.8 1133.2 619.6 1134.9 622.5C1136.6 625.4 1137.4 628.1 1137.4 631.2C1137.4 634.3 1135.3 639.4 1134.9 641" fill="none" stroke="#1a1a1a" stroke-width="0.9" stroke-linecap="round" stroke-linejoin="round"/>
<path d="M1090.5 632L1071 662L1111 683L1124.5 655Z" fill="#fff" stroke="none"/>
<path d="M1089.8 634.5L1077.5 654M1123 657L1114.5 672" fill="none" stroke="#1a1a1a" stroke-width="1.7" stroke-linecap="round" stroke-linejoin="round"/>
<ellipse cx="1112.6" cy="636.8" rx="23" ry="18" transform="rotate(32.7 1112.6 636.8)" fill="#fff" stroke="#1a1a1a" stroke-width="1.7" stroke-linecap="round" stroke-linejoin="round"/>
<ellipse cx="1109.8" cy="640.3" rx="22.6" ry="17.8" transform="rotate(32.7 1109.8 640.3)" fill="#fff" stroke="#1a1a1a" stroke-width="2.3" stroke-linecap="round" stroke-linejoin="round"/>
<ellipse cx="1091.5" cy="671" rx="22.6" ry="18.6" transform="rotate(32.7 1091.5 671)" fill="#fff" stroke="#1a1a1a" stroke-width="1.7" stroke-linecap="round" stroke-linejoin="round"/>
<ellipse cx="1090" cy="673.2" rx="22.3" ry="18.4" transform="rotate(32.7 1090 673.2)" fill="#fff" stroke="#1a1a1a" stroke-width="2.3" stroke-linecap="round" stroke-linejoin="round"/>
<ellipse cx="1089.3" cy="674.6" rx="19.6" ry="16" transform="rotate(32.7 1089.3 674.6)" fill="none" stroke="#1a1a1a" stroke-width="1.7" stroke-linecap="round" stroke-linejoin="round"/>
<ellipse cx="1088.6" cy="676.2" rx="17.4" ry="14" transform="rotate(32.7 1088.6 676.2)" fill="#fff" stroke="#1a1a1a" stroke-width="1.7" stroke-linecap="round" stroke-linejoin="round"/>
</g>
</svg>
</body></html>
